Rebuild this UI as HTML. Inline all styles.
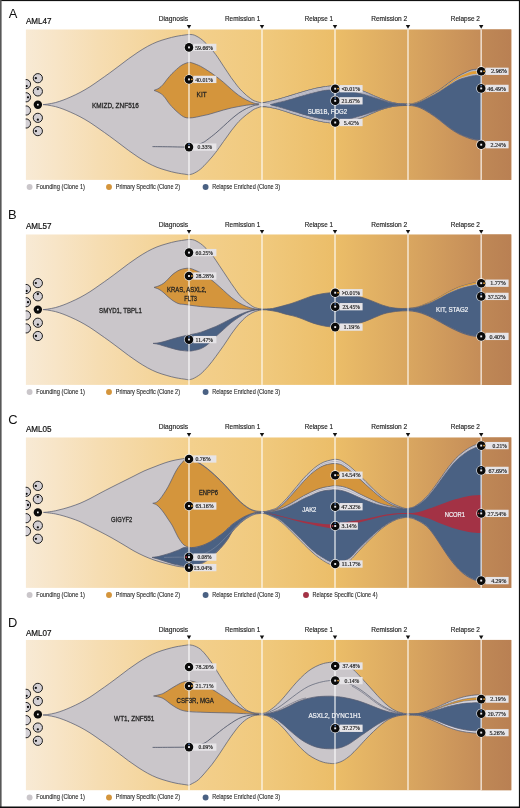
<!DOCTYPE html>
<html><head><meta charset="utf-8"><title>Clonal evolution</title>
<style>
html,body{margin:0;padding:0;background:#fff}
body{width:520px;height:808px;overflow:hidden;position:relative;font-family:"Liberation Sans",sans-serif}
svg{position:absolute;left:0;top:0;display:block;will-change:transform}
text{font-family:"Liberation Sans",sans-serif}
.pl{font-size:12.9px;fill:#111}
.pn{font-size:8.7px;fill:#111;stroke:#111;stroke-width:.2px}
.tp{font-size:7px;fill:#1a1a1a;stroke:#1a1a1a;stroke-width:.14px}
.gn{font-size:7.6px;fill:#222;stroke:#222;stroke-width:.28px}
.gw{font-size:7.6px;fill:#f0f2f6;stroke:#f0f2f6;stroke-width:.22px}
.lg{font-size:6.4px;fill:#262626;stroke:#262626;stroke-width:.1px}
.pc{font-family:"Liberation Serif",serif;font-size:6.3px;fill:#151515;stroke:#151515;stroke-width:.16px}
</style></head><body>
<svg width="520" height="808" viewBox="0 0 520 808">
<defs>
<linearGradient id="bg" gradientUnits="userSpaceOnUse" x1="25.7" x2="511.5" y1="0" y2="0"><stop offset="0" stop-color="#f8ead5"/><stop offset="0.07" stop-color="#f7e4c5"/><stop offset="0.15" stop-color="#f6ddb2"/><stop offset="0.26" stop-color="#f4d59c"/><stop offset="0.34" stop-color="#f3d08d"/><stop offset="0.49" stop-color="#f0c97d"/><stop offset="0.64" stop-color="#ebbd68"/><stop offset="0.79" stop-color="#d9a660"/><stop offset="0.94" stop-color="#c48c58"/><stop offset="1" stop-color="#be8656"/></linearGradient>
<linearGradient id="bg2" gradientUnits="userSpaceOnUse" x1="481.2" x2="511.5" y1="0" y2="0"><stop offset="0" stop-color="#bf8856"/><stop offset="1" stop-color="#b98053"/></linearGradient>
</defs>
<rect width="520" height="808" fill="#fff"/>
<g clip-path="url(#cA)">
<rect x="25.7" y="29.3" width="485.8" height="150.6" fill="url(#bg)"/>
<rect x="481.2" y="29.3" width="30.3" height="150.6" fill="url(#bg2)"/>
<path d="M43 104.6C43.78 104.52 45.63 104.43 47.7 104.1C49.77 103.77 52.83 103.27 55.4 102.6C57.97 101.93 60.53 101.05 63.1 100.1C65.67 99.15 67.98 98.17 70.8 96.9C73.62 95.63 76.8 94.2 80 92.5C83.2 90.8 86.67 88.82 90 86.7C93.33 84.58 96.8 82.03 100 79.8C103.2 77.57 106.03 75.6 109.2 73.3C112.37 71 115.78 68.42 119 66C122.22 63.58 125.33 61.1 128.5 58.8C131.67 56.5 134.8 54.28 138 52.2C141.2 50.12 144.53 48.02 147.7 46.3C150.87 44.58 153.8 43.17 157 41.9C160.2 40.63 163.73 39.62 166.9 38.7C170.07 37.78 172.78 37.05 176 36.4C179.22 35.75 184.03 35.12 186.2 34.8C188.37 34.48 187.92 34.52 189 34.5C190.08 34.48 191.53 34.47 192.7 34.7C193.87 34.93 194.72 35.27 196 35.9C197.28 36.53 199.07 37.57 200.4 38.5C201.73 39.43 202.73 40.35 204 41.5C205.27 42.65 206.67 44.02 208 45.4C209.33 46.78 210.7 48.27 212 49.8C213.3 51.33 214.55 52.9 215.8 54.6C217.05 56.3 218.22 58.07 219.5 60C220.78 61.93 222.17 64.17 223.5 66.2C224.83 68.23 226.22 70.28 227.5 72.2C228.78 74.12 229.95 75.93 231.2 77.7C232.45 79.47 233.73 81.13 235 82.8C236.27 84.47 237.53 86.22 238.8 87.7C240.07 89.18 241.32 90.42 242.6 91.7C243.88 92.98 245.2 94.28 246.5 95.4C247.8 96.52 249.12 97.5 250.4 98.4C251.68 99.3 252.53 100.1 254.2 100.8C255.87 101.5 259.1 102.28 260.4 102.6C261.7 102.92 260.97 102.78 262 102.7C263.03 102.62 264.87 102.42 266.6 102.1C268.33 101.78 270.6 101.23 272.4 100.8C274.2 100.37 275.3 100.08 277.4 99.5C279.5 98.92 282.43 98.07 285 97.3C287.57 96.53 290.3 95.67 292.8 94.9C295.3 94.13 297.43 93.47 300 92.7C302.57 91.93 305.53 91.03 308.2 90.3C310.87 89.57 313.45 88.87 316 88.3C318.55 87.73 320.97 87.28 323.5 86.9C326.03 86.52 329.28 86.18 331.2 86C333.12 85.82 333.2 85.77 335 85.8C336.8 85.83 339.5 85.9 342 86.2C344.5 86.5 346.55 86.8 350 87.6C353.45 88.4 358.78 89.67 362.7 91C366.62 92.33 370.42 94.3 373.5 95.6C376.58 96.9 378.65 97.8 381.2 98.8C383.75 99.8 386.25 100.83 388.8 101.6C391.35 102.37 393.93 103.02 396.5 103.4C399.07 103.78 402.28 103.82 404.2 103.9C406.12 103.98 407.37 103.9 408 103.9L408 105.5C407.37 105.5 406.12 105.43 404.2 105.5C402.28 105.57 399.07 105.6 396.5 105.9C393.93 106.2 391.35 106.68 388.8 107.3C386.25 107.92 383.75 108.7 381.2 109.6C378.65 110.5 376.58 111.42 373.5 112.7C370.42 113.98 366.62 115.87 362.7 117.3C358.78 118.73 353.45 120.42 350 121.3C346.55 122.18 344.5 122.32 342 122.6C339.5 122.88 336.8 122.95 335 123C333.2 123.05 333.12 123.08 331.2 122.9C329.28 122.72 326.03 122.32 323.5 121.9C320.97 121.48 318.55 120.98 316 120.4C313.45 119.82 310.87 119.13 308.2 118.4C305.53 117.67 302.57 116.77 300 116C297.43 115.23 295.3 114.6 292.8 113.8C290.3 113 287.57 112.02 285 111.2C282.43 110.38 279.5 109.47 277.4 108.9C275.3 108.33 274.2 108.15 272.4 107.8C270.6 107.45 268.33 106.98 266.6 106.8C264.87 106.62 263.03 106.7 262 106.7C260.97 106.7 261.7 106.38 260.4 106.8C259.1 107.22 255.87 108.37 254.2 109.2C252.53 110.03 251.68 110.9 250.4 111.8C249.12 112.7 247.8 113.58 246.5 114.6C245.2 115.62 243.88 116.75 242.6 117.9C241.32 119.05 240.07 120.15 238.8 121.5C237.53 122.85 236.27 124.45 235 126C233.73 127.55 232.45 129.13 231.2 130.8C229.95 132.47 228.78 134.22 227.5 136C226.22 137.78 224.83 139.63 223.5 141.5C222.17 143.37 220.78 145.4 219.5 147.2C218.22 149 217.05 150.67 215.8 152.3C214.55 153.93 213.3 155.47 212 157C210.7 158.53 209.33 160.03 208 161.5C206.67 162.97 205.27 164.52 204 165.8C202.73 167.08 201.65 168.18 200.4 169.2C199.15 170.22 197.78 171.13 196.5 171.9C195.22 172.67 193.95 173.33 192.7 173.8C191.45 174.27 190.08 174.6 189 174.7C187.92 174.8 188.37 174.72 186.2 174.4C184.03 174.08 179.22 173.45 176 172.8C172.78 172.15 170.07 171.42 166.9 170.5C163.73 169.58 160.2 168.57 157 167.3C153.8 166.03 150.87 164.62 147.7 162.9C144.53 161.18 141.2 159.08 138 157C134.8 154.92 131.67 152.7 128.5 150.4C125.33 148.1 122.22 145.62 119 143.2C115.78 140.78 112.37 138.2 109.2 135.9C106.03 133.6 103.2 131.63 100 129.4C96.8 127.17 93.33 124.62 90 122.5C86.67 120.38 83.2 118.4 80 116.7C76.8 115 73.62 113.57 70.8 112.3C67.98 111.03 65.67 110.05 63.1 109.1C60.53 108.15 57.97 107.27 55.4 106.6C52.83 105.93 49.77 105.43 47.7 105.1C45.63 104.77 43.78 104.68 43 104.6Z" fill="#cac6ca" stroke="#585e71" stroke-width="0.75" />
<path d="M154 90.4C154.83 90.03 157.5 89.17 159 88.2C160.5 87.23 161.68 86.05 163 84.6C164.32 83.15 165.4 81.33 166.9 79.5C168.4 77.67 170.4 75.28 172 73.6C173.6 71.92 175.17 70.6 176.5 69.4C177.83 68.2 178.75 67.3 180 66.4C181.25 65.5 182.5 64.67 184 64C185.5 63.33 187.55 62.55 189 62.4C190.45 62.25 190.8 62.47 192.7 63.1C194.6 63.73 197.85 64.92 200.4 66.2C202.95 67.48 205.43 69.13 208 70.8C210.57 72.47 213.22 74.28 215.8 76.2C218.38 78.12 220.93 80.13 223.5 82.3C226.07 84.47 228.65 87.02 231.2 89.2C233.75 91.38 236.25 93.6 238.8 95.4C241.35 97.2 243.93 98.7 246.5 100C249.07 101.3 252.12 102.53 254.2 103.2C256.28 103.87 258.2 103.87 259 104L259 104.2C258.2 104.23 256.28 104.23 254.2 104.4C252.12 104.57 249.07 104.85 246.5 105.2C243.93 105.55 241.35 106.03 238.8 106.5C236.25 106.97 233.75 107.42 231.2 108C228.65 108.58 226.07 109.28 223.5 110C220.93 110.72 218.38 111.53 215.8 112.3C213.22 113.07 210.57 113.95 208 114.6C205.43 115.25 202.95 115.68 200.4 116.2C197.85 116.72 195.27 117.5 192.7 117.7C190.13 117.9 187.45 118.25 185 117.4C182.55 116.55 180.5 114.73 178 112.6C175.5 110.47 172.33 107.3 170 104.6C167.67 101.9 165.83 98.42 164 96.4C162.17 94.38 160.67 93.5 159 92.5C157.33 91.5 154.83 90.75 154 90.4Z" fill="#d4953c" stroke="#585e71" stroke-width="0.75" />
<path d="M152.5 146.6C155.42 146.63 163.92 146.73 170 146.8C176.08 146.87 184.67 147.23 189 147C193.33 146.77 193.58 146.18 196 145.4C198.42 144.62 201.5 143.33 203.5 142.3C205.5 141.27 205.95 140.73 208 139.2C210.05 137.67 213.22 135.27 215.8 133.1C218.38 130.93 220.93 128.52 223.5 126.2C226.07 123.88 228.65 121.38 231.2 119.2C233.75 117.02 236.25 114.88 238.8 113.1C241.35 111.32 243.93 109.77 246.5 108.5C249.07 107.23 252.2 106.1 254.2 105.5C256.2 104.9 257.78 105 258.5 104.9" fill="none" stroke="#4e5568" stroke-width="0.85"/>
<path d="M266.6 102.1C267.57 101.88 270.6 101.23 272.4 100.8C274.2 100.37 275.3 100.08 277.4 99.5C279.5 98.92 282.43 98.07 285 97.3C287.57 96.53 290.3 95.67 292.8 94.9C295.3 94.13 297.43 93.47 300 92.7C302.57 91.93 305.53 91.03 308.2 90.3C310.87 89.57 313.45 88.87 316 88.3C318.55 87.73 320.97 87.28 323.5 86.9C326.03 86.52 329.28 86.18 331.2 86C333.12 85.82 333.2 85.77 335 85.8C336.8 85.83 339.5 85.9 342 86.2C344.5 86.5 346.55 86.8 350 87.6C353.45 88.4 358.78 89.67 362.7 91C366.62 92.33 370.42 94.3 373.5 95.6C376.58 96.9 378.65 97.8 381.2 98.8C383.75 99.8 386.25 100.83 388.8 101.6C391.35 102.37 393.93 103.02 396.5 103.4C399.07 103.78 402.92 103.82 404.2 103.9L404.2 104.41C402.92 104.33 399.07 104.24 396.5 103.9C393.93 103.56 391.35 103.05 388.8 102.4C386.25 101.75 383.75 100.83 381.2 100C378.65 99.17 376.58 98.38 373.5 97.4C370.42 96.42 366.62 95.19 362.7 94.14C358.78 93.09 353.45 91.81 350 91.1C346.55 90.39 344.5 90.17 342 89.9C339.5 89.63 336.8 89.53 335 89.5C333.2 89.47 333.12 89.52 331.2 89.7C329.28 89.88 326.03 90.18 323.5 90.6C320.97 91.02 318.55 91.6 316 92.2C313.45 92.8 310.87 93.47 308.2 94.2C305.53 94.93 302.57 95.83 300 96.6C297.43 97.37 295.3 98.08 292.8 98.8C290.3 99.52 287.57 100.25 285 100.9C282.43 101.55 279.5 102.18 277.4 102.7C275.3 103.22 274.2 103.7 272.4 104C270.6 104.3 267.57 104.42 266.6 104.5Z" fill="#dbd8dd" stroke="none" stroke-width="0" />
<path d="M266.6 104.9C267.57 104.98 270.6 105.08 272.4 105.37C274.2 105.65 275.3 106.03 277.4 106.6C279.5 107.17 282.43 108.03 285 108.8C287.57 109.57 290.3 110.43 292.8 111.2C295.3 111.97 297.43 112.63 300 113.4C302.57 114.17 305.53 115.07 308.2 115.8C310.87 116.53 313.45 117.22 316 117.8C318.55 118.38 320.97 118.88 323.5 119.3C326.03 119.72 329.28 120.1 331.2 120.3C333.12 120.5 333.2 120.52 335 120.5C336.8 120.48 339.5 120.45 342 120.2C344.5 119.95 346.55 119.84 350 119C353.45 118.16 358.78 116.39 362.7 115.15C366.62 113.92 370.42 112.64 373.5 111.6C376.58 110.56 378.65 109.7 381.2 108.9C383.75 108.1 386.25 107.35 388.8 106.8C391.35 106.25 393.93 105.85 396.5 105.6C399.07 105.35 402.92 105.34 404.2 105.29L404.2 105.5C402.92 105.57 399.07 105.6 396.5 105.9C393.93 106.2 391.35 106.68 388.8 107.3C386.25 107.92 383.75 108.7 381.2 109.6C378.65 110.5 376.58 111.42 373.5 112.7C370.42 113.98 366.62 115.87 362.7 117.3C358.78 118.73 353.45 120.42 350 121.3C346.55 122.18 344.5 122.32 342 122.6C339.5 122.88 336.8 122.95 335 123C333.2 123.05 333.12 123.08 331.2 122.9C329.28 122.72 326.03 122.32 323.5 121.9C320.97 121.48 318.55 120.98 316 120.4C313.45 119.82 310.87 119.13 308.2 118.4C305.53 117.67 302.57 116.77 300 116C297.43 115.23 295.3 114.6 292.8 113.8C290.3 113 287.57 112.02 285 111.2C282.43 110.38 279.5 109.47 277.4 108.9C275.3 108.33 274.2 108.15 272.4 107.8C270.6 107.45 267.57 106.97 266.6 106.8Z" fill="#dbd8dd" stroke="none" stroke-width="0" />
<path d="M266.6 102.96C267.57 102.8 270.6 102.34 272.4 101.95C274.2 101.57 275.3 101.21 277.4 100.65C279.5 100.09 282.43 99.32 285 98.6C287.57 97.87 290.3 97.05 292.8 96.3C295.3 95.56 297.43 94.87 300 94.1C302.57 93.34 305.53 92.44 308.2 91.7C310.87 90.97 313.45 90.28 316 89.7C318.55 89.13 320.97 88.63 323.5 88.23C326.03 87.84 329.28 87.52 331.2 87.33C333.12 87.15 333.2 87.1 335 87.13C336.8 87.17 339.5 87.24 342 87.53C344.5 87.82 346.55 88.09 350 88.86C353.45 89.63 358.78 90.9 362.7 92.13C366.62 93.36 370.42 95.06 373.5 96.25C376.58 97.43 378.65 98.29 381.2 99.23C383.75 100.17 386.25 101.16 388.8 101.89C391.35 102.61 393.93 103.21 396.5 103.58C399.07 103.95 402.92 104 404.2 104.08" fill="none" stroke="#80839a" stroke-width="0.45"/>
<path d="M266.6 103.73C267.57 103.61 270.6 103.32 272.4 102.98C274.2 102.64 275.3 102.21 277.4 101.68C279.5 101.14 282.43 100.44 285 99.75C287.57 99.06 290.3 98.28 292.8 97.55C295.3 96.82 297.43 96.12 300 95.35C302.57 94.59 305.53 93.69 308.2 92.95C310.87 92.22 313.45 91.54 316 90.95C318.55 90.36 320.97 89.82 323.5 89.42C326.03 89.01 329.28 88.7 331.2 88.52C333.12 88.33 333.2 88.28 335 88.32C336.8 88.35 339.5 88.44 342 88.72C344.5 88.99 346.55 89.24 350 89.98C353.45 90.72 358.78 92 362.7 93.14C366.62 94.28 370.42 95.74 373.5 96.82C376.58 97.9 378.65 98.73 381.2 99.62C383.75 100.5 386.25 101.46 388.8 102.14C391.35 102.83 393.93 103.39 396.5 103.74C399.07 104.09 402.92 104.16 404.2 104.25" fill="none" stroke="#80839a" stroke-width="0.45"/>
<path d="M266.6 105.85C267.57 105.97 270.6 106.27 272.4 106.58C274.2 106.9 275.3 107.18 277.4 107.75C279.5 108.32 282.43 109.21 285 110C287.57 110.79 290.3 111.72 292.8 112.5C295.3 113.28 297.43 113.93 300 114.7C302.57 115.47 305.53 116.37 308.2 117.1C310.87 117.83 313.45 118.52 316 119.1C318.55 119.68 320.97 120.18 323.5 120.6C326.03 121.02 329.28 121.41 331.2 121.6C333.12 121.79 333.2 121.78 335 121.75C336.8 121.72 339.5 121.67 342 121.4C344.5 121.13 346.55 121.01 350 120.15C353.45 119.29 358.78 117.56 362.7 116.23C366.62 114.89 370.42 113.31 373.5 112.15C376.58 110.99 378.65 110.1 381.2 109.25C383.75 108.4 386.25 107.63 388.8 107.05C391.35 106.47 393.93 106.03 396.5 105.75C399.07 105.47 402.92 105.45 404.2 105.39" fill="none" stroke="#80839a" stroke-width="0.45"/>
<path d="M270.5 104.5C271.65 104.2 274.98 103.3 277.4 102.7C279.82 102.1 282.43 101.55 285 100.9C287.57 100.25 290.3 99.52 292.8 98.8C295.3 98.08 297.43 97.37 300 96.6C302.57 95.83 305.53 94.93 308.2 94.2C310.87 93.47 313.45 92.8 316 92.2C318.55 91.6 320.97 91.02 323.5 90.6C326.03 90.18 329.28 89.88 331.2 89.7C333.12 89.52 333.2 89.47 335 89.5C336.8 89.53 339.5 89.63 342 89.9C344.5 90.17 347.33 90.58 350 91.1C352.67 91.62 355.37 92.37 358 93C360.63 93.63 363.22 94.17 365.8 94.9C368.38 95.63 370.93 96.55 373.5 97.4C376.07 98.25 378.65 99.17 381.2 100C383.75 100.83 386.25 101.75 388.8 102.4C391.35 103.05 393.97 103.57 396.5 103.9C399.03 104.23 402.42 104.3 404 104.4C405.58 104.5 405.67 104.48 406 104.5L406 105.2C405.67 105.22 405.58 105.23 404 105.3C402.42 105.37 399.03 105.35 396.5 105.6C393.97 105.85 391.35 106.25 388.8 106.8C386.25 107.35 383.75 108.1 381.2 108.9C378.65 109.7 376.07 110.72 373.5 111.6C370.93 112.48 368.38 113.37 365.8 114.2C363.22 115.03 360.63 115.8 358 116.6C355.37 117.4 352.67 118.4 350 119C347.33 119.6 344.5 119.95 342 120.2C339.5 120.45 336.8 120.48 335 120.5C333.2 120.52 333.12 120.5 331.2 120.3C329.28 120.1 326.03 119.72 323.5 119.3C320.97 118.88 318.55 118.38 316 117.8C313.45 117.22 310.87 116.53 308.2 115.8C305.53 115.07 302.57 114.17 300 113.4C297.43 112.63 295.3 111.97 292.8 111.2C290.3 110.43 287.57 109.57 285 108.8C282.43 108.03 279.82 107.25 277.4 106.6C274.98 105.95 271.65 105.18 270.5 104.9Z" fill="#4a6183" stroke="#585e71" stroke-width="0.75" />
<path d="M262 102.7C262.77 102.6 264.87 102.42 266.6 102.1C268.33 101.78 270.6 101.23 272.4 100.8C274.2 100.37 275.3 100.08 277.4 99.5C279.5 98.92 282.43 98.07 285 97.3C287.57 96.53 290.3 95.67 292.8 94.9C295.3 94.13 297.43 93.47 300 92.7C302.57 91.93 305.53 91.03 308.2 90.3C310.87 89.57 313.45 88.87 316 88.3C318.55 87.73 320.97 87.28 323.5 86.9C326.03 86.52 329.28 86.18 331.2 86C333.12 85.82 333.2 85.77 335 85.8C336.8 85.83 339.5 85.9 342 86.2C344.5 86.5 346.55 86.8 350 87.6C353.45 88.4 358.78 89.67 362.7 91C366.62 92.33 370.42 94.3 373.5 95.6C376.58 96.9 378.65 97.8 381.2 98.8C383.75 99.8 386.25 100.83 388.8 101.6C391.35 102.37 393.93 103.02 396.5 103.4C399.07 103.78 402.28 103.82 404.2 103.9C406.12 103.98 407.37 103.9 408 103.9" fill="none" stroke="#585e71" stroke-width="0.65"/>
<path d="M262 106.7C262.77 106.72 264.87 106.62 266.6 106.8C268.33 106.98 270.6 107.45 272.4 107.8C274.2 108.15 275.3 108.33 277.4 108.9C279.5 109.47 282.43 110.38 285 111.2C287.57 112.02 290.3 113 292.8 113.8C295.3 114.6 297.43 115.23 300 116C302.57 116.77 305.53 117.67 308.2 118.4C310.87 119.13 313.45 119.82 316 120.4C318.55 120.98 320.97 121.48 323.5 121.9C326.03 122.32 329.28 122.72 331.2 122.9C333.12 123.08 333.2 123.05 335 123C336.8 122.95 339.5 122.88 342 122.6C344.5 122.32 346.55 122.18 350 121.3C353.45 120.42 358.78 118.73 362.7 117.3C366.62 115.87 370.42 113.98 373.5 112.7C376.58 111.42 378.65 110.5 381.2 109.6C383.75 108.7 386.25 107.92 388.8 107.3C391.35 106.68 393.93 106.2 396.5 105.9C399.07 105.6 402.28 105.57 404.2 105.5C406.12 105.43 407.37 105.5 408 105.5" fill="none" stroke="#585e71" stroke-width="0.65"/>
<path d="M408 103.9C408.78 103.85 410.7 104.08 412.7 103.6C414.7 103.12 417.18 102.32 420 101C422.82 99.68 426.4 97.53 429.6 95.7C432.8 93.87 436 92.15 439.2 90C442.4 87.85 445.58 85.13 448.8 82.8C452.02 80.47 454.97 78.07 458.5 76C462.03 73.93 467.08 71.52 470 70.4C472.92 69.28 474.13 69.55 476 69.3C477.87 69.05 480.33 68.97 481.2 68.9L481.2 140.6C480.33 140.5 477.87 140.33 476 140C474.13 139.67 472.92 139.63 470 138.6C467.08 137.57 462.03 135.63 458.5 133.8C454.97 131.97 452.02 129.92 448.8 127.6C445.58 125.28 442.4 122.32 439.2 119.9C436 117.48 432.8 115.12 429.6 113.1C426.4 111.08 422.82 109.02 420 107.8C417.18 106.58 414.7 106.18 412.7 105.8C410.7 105.42 408.78 105.55 408 105.5Z" fill="#b4b5c0" stroke="#585e71" stroke-width="0.75" />
<path d="M408 104.08C408.78 104.03 410.7 104.23 412.7 103.76C414.7 103.28 417.18 102.51 420 101.23C422.82 99.96 426.4 97.88 429.6 96.09C432.8 94.3 436 92.59 439.2 90.49C442.4 88.4 445.58 85.77 448.8 83.53C452.02 81.28 454.97 78.94 458.5 77.01C462.03 75.09 467.08 73 470 71.99C472.92 70.97 474.13 71.15 476 70.91C477.87 70.67 480.33 70.6 481.2 70.54L481.2 73.44C480.33 73.49 477.87 73.54 476 73.76C474.13 73.99 472.92 73.95 470 74.79C467.08 75.63 462.03 77.14 458.5 78.81C454.97 80.48 452.02 82.72 448.8 84.82C445.58 86.91 442.4 89.37 439.2 91.37C436 93.36 432.8 95.07 429.6 96.78C426.4 98.49 422.82 100.44 420 101.65C417.18 102.86 414.7 103.57 412.7 104.03C410.7 104.49 408.78 104.34 408 104.4Z" fill="#e29d33" stroke="none" stroke-width="0" />
<path d="M410 104.6C410.45 104.53 411.03 104.65 412.7 104.2C414.37 103.75 417.18 103.07 420 101.9C422.82 100.73 426.4 98.87 429.6 97.2C432.8 95.53 436 93.83 439.2 91.9C442.4 89.97 445.58 87.6 448.8 85.6C452.02 83.6 454.97 81.42 458.5 79.9C462.03 78.38 467.08 77.23 470 76.5C472.92 75.77 474.13 75.72 476 75.5C477.87 75.28 480.33 75.25 481.2 75.2L481.2 140C480.33 139.9 477.87 139.73 476 139.4C474.13 139.07 472.92 139.03 470 138C467.08 136.97 462.03 135.03 458.5 133.2C454.97 131.37 452.02 129.32 448.8 127C445.58 124.68 442.4 121.72 439.2 119.3C436 116.88 432.8 114.52 429.6 112.5C426.4 110.48 422.82 108.42 420 107.2C417.18 105.98 414.37 105.58 412.7 105.2C411.03 104.82 410.45 104.95 410 104.9Z" fill="#4a6183" stroke="#585e71" stroke-width="0.75" />
<rect x="188.2" y="29.3" width="1.6" height="150.6" fill="#fff" fill-opacity=".68"/>
<rect x="261.2" y="29.3" width="1.6" height="150.6" fill="#fff" fill-opacity=".68"/>
<rect x="334.2" y="29.3" width="1.6" height="150.6" fill="#fff" fill-opacity=".68"/>
<rect x="407.2" y="29.3" width="1.6" height="150.6" fill="#fff" fill-opacity=".68"/>
<rect x="480.4" y="29.3" width="1.6" height="150.6" fill="#fff" fill-opacity=".68"/>
<text x="307.8" y="114.3" class="gw" textLength="39.3" lengthAdjust="spacingAndGlyphs">SUB1B, FOG2</text>
<text x="92" y="107.8" class="gn" textLength="46.9" lengthAdjust="spacingAndGlyphs">KMIZD, ZNF516</text>
<text x="196.6" y="97.2" class="gn" textLength="10" lengthAdjust="spacingAndGlyphs">KIT</text>
<circle cx="26" cy="84.1" r="4.6" fill="#d3cfd3" stroke="#1c1c1c" stroke-width="1"/><circle cx="26.6" cy="86.1" r="1.15" fill="#111"/><circle cx="26" cy="97.3" r="4.6" fill="#d3cfd3" stroke="#1c1c1c" stroke-width="1"/><circle cx="28" cy="97.3" r="1.15" fill="#111"/><circle cx="26" cy="110.5" r="4.6" fill="#d3cfd3" stroke="#1c1c1c" stroke-width="1"/><circle cx="26" cy="123.5" r="4.6" fill="#d3cfd3" stroke="#1c1c1c" stroke-width="1"/><circle cx="37.85" cy="78.2" r="4.6" fill="#d3cfd3" stroke="#1c1c1c" stroke-width="1"/><circle cx="35.85" cy="78.2" r="1.15" fill="#111"/><circle cx="37.85" cy="91.4" r="4.6" fill="#d3cfd3" stroke="#1c1c1c" stroke-width="1"/><circle cx="37.85" cy="89.1" r="1.15" fill="#111"/><circle cx="37.85" cy="117.85" r="4.6" fill="#d3cfd3" stroke="#1c1c1c" stroke-width="1"/><circle cx="37.85" cy="119.65" r="1.15" fill="#111"/><circle cx="37.85" cy="131.1" r="4.6" fill="#d3cfd3" stroke="#1c1c1c" stroke-width="1"/><circle cx="35.95" cy="131.1" r="1.15" fill="#111"/><circle cx="37.85" cy="104.7" r="4.2" fill="#0a0a0a"/><rect x="37" y="103.85" width="1.7" height="1.7" fill="#eee"/>
</g>
<defs><clipPath id="cA"><rect x="25.7" y="29.3" width="485.8" height="150.6"/></clipPath></defs>
<text x="8.85" y="17.5" class="pl">A</text>
<text x="25.9" y="23.65" class="pn" textLength="25.6" lengthAdjust="spacingAndGlyphs">AML47</text>
<text x="158.7" y="20.5" class="tp" textLength="29.4" lengthAdjust="spacingAndGlyphs">Diagnosis</text>
<path d="M186.8 25.1 h4.4 l-2.2 3.6z" fill="#111"/>
<text x="225" y="20.5" class="tp" textLength="35.2" lengthAdjust="spacingAndGlyphs">Remission 1</text>
<path d="M259.8 25.1 h4.4 l-2.2 3.6z" fill="#111"/>
<text x="304.7" y="20.5" class="tp" textLength="28.2" lengthAdjust="spacingAndGlyphs">Relapse 1</text>
<path d="M332.8 25.1 h4.4 l-2.2 3.6z" fill="#111"/>
<text x="371.15" y="20.5" class="tp" textLength="36.1" lengthAdjust="spacingAndGlyphs">Remission 2</text>
<path d="M405.8 25.1 h4.4 l-2.2 3.6z" fill="#111"/>
<text x="450.8" y="20.5" class="tp" textLength="29.1" lengthAdjust="spacingAndGlyphs">Relapse 2</text>
<path d="M479 25.1 h4.4 l-2.2 3.6z" fill="#111"/>
<rect x="193.3" y="43.75" width="23.1" height="7.3" fill="#e6e4e7"/><text x="195.2" y="49.55" class="pc" textLength="17.9" lengthAdjust="spacingAndGlyphs">59.66%</text>
<circle cx="189" cy="47.4" r="4.95" fill="#fff" fill-opacity=".82"/><circle cx="189" cy="47.4" r="4.3" fill="#0a0a0a"/><rect x="188.05" y="46.45" width="1.9" height="1.9" fill="#ececf0"/>
<rect x="193.3" y="75.75" width="23.1" height="7.3" fill="#e6e4e7"/><text x="195.2" y="81.55" class="pc" textLength="17.9" lengthAdjust="spacingAndGlyphs">40.01%</text>
<circle cx="189" cy="79.4" r="4.95" fill="#fff" fill-opacity=".82"/><circle cx="189" cy="79.4" r="4.3" fill="#0a0a0a"/><rect x="188.05" y="78.45" width="1.9" height="1.9" fill="#ececf0"/><rect x="191.11" y="78.65" width="1.5" height="1.5" fill="#f0a22c"/>
<rect x="193.3" y="143.45" width="23.1" height="7.3" fill="#e6e4e7"/><text x="197.6" y="149.25" class="pc" textLength="14.6" lengthAdjust="spacingAndGlyphs">0.33%</text>
<circle cx="189" cy="147.1" r="4.95" fill="#fff" fill-opacity=".82"/><circle cx="189" cy="147.1" r="4.3" fill="#0a0a0a"/><rect x="188.05" y="146.15" width="1.9" height="1.9" fill="#ececf0"/><rect x="188.25" y="143.62" width="1.5" height="1.5" fill="#4f79b8"/>
<rect x="339.5" y="85.05" width="23.1" height="7.3" fill="#e6e4e7"/><text x="341.4" y="90.85" class="pc" textLength="19" lengthAdjust="spacingAndGlyphs">&lt;0.01%</text>
<circle cx="335.2" cy="88.7" r="4.95" fill="#fff" fill-opacity=".82"/><circle cx="335.2" cy="88.7" r="4.3" fill="#0a0a0a"/><rect x="334.25" y="87.75" width="1.9" height="1.9" fill="#ececf0"/><rect x="337.31" y="87.95" width="1.5" height="1.5" fill="#f0a22c"/>
<rect x="339.5" y="97.15" width="23.1" height="7.3" fill="#e6e4e7"/><text x="341.5" y="102.95" class="pc" textLength="18.3" lengthAdjust="spacingAndGlyphs">21.67%</text>
<circle cx="335.2" cy="100.8" r="4.95" fill="#fff" fill-opacity=".82"/><circle cx="335.2" cy="100.8" r="4.3" fill="#0a0a0a"/><rect x="334.25" y="99.85" width="1.9" height="1.9" fill="#ececf0"/><rect x="334.45" y="97.32" width="1.5" height="1.5" fill="#4f79b8"/>
<rect x="339.5" y="118.85" width="23.1" height="7.3" fill="#e6e4e7"/><text x="343.7" y="124.65" class="pc" textLength="15.1" lengthAdjust="spacingAndGlyphs">5.42%</text>
<circle cx="335.2" cy="122.5" r="4.95" fill="#fff" fill-opacity=".82"/><circle cx="335.2" cy="122.5" r="4.3" fill="#0a0a0a"/><rect x="334.25" y="121.55" width="1.9" height="1.9" fill="#ececf0"/>
<rect x="485.5" y="67.65" width="23.1" height="7.3" fill="#e6e4e7"/><text x="491" y="73.45" class="pc" textLength="16" lengthAdjust="spacingAndGlyphs">2.96%</text>
<circle cx="481.2" cy="71.3" r="4.95" fill="#fff" fill-opacity=".82"/><circle cx="481.2" cy="71.3" r="4.3" fill="#0a0a0a"/><rect x="480.25" y="70.35" width="1.9" height="1.9" fill="#ececf0"/><rect x="483.31" y="70.55" width="1.5" height="1.5" fill="#f0a22c"/>
<rect x="485.5" y="84.75" width="23.1" height="7.3" fill="#e6e4e7"/><text x="487.3" y="90.55" class="pc" textLength="18.7" lengthAdjust="spacingAndGlyphs">46.49%</text>
<circle cx="481.2" cy="88.4" r="4.95" fill="#fff" fill-opacity=".82"/><circle cx="481.2" cy="88.4" r="4.3" fill="#0a0a0a"/><rect x="480.25" y="87.45" width="1.9" height="1.9" fill="#ececf0"/><rect x="480.45" y="84.92" width="1.5" height="1.5" fill="#4f79b8"/>
<rect x="485.5" y="141.05" width="23.1" height="7.3" fill="#e6e4e7"/><text x="490.5" y="146.85" class="pc" textLength="15.5" lengthAdjust="spacingAndGlyphs">2.24%</text>
<circle cx="481.2" cy="144.7" r="4.95" fill="#fff" fill-opacity=".82"/><circle cx="481.2" cy="144.7" r="4.3" fill="#0a0a0a"/><rect x="480.25" y="143.75" width="1.9" height="1.9" fill="#ececf0"/>
<circle cx="29.6" cy="187" r="2.95" fill="#cac6ca"/>
<text x="36.2" y="188.75" class="lg" textLength="48.8" lengthAdjust="spacingAndGlyphs">Founding (Clone 1)</text>
<circle cx="109" cy="187" r="2.95" fill="#d4953c"/>
<text x="115.7" y="188.75" class="lg" textLength="64.3" lengthAdjust="spacingAndGlyphs">Primary Specific (Clone 2)</text>
<circle cx="205.6" cy="187" r="2.95" fill="#4a6183"/>
<text x="212.2" y="188.75" class="lg" textLength="67.8" lengthAdjust="spacingAndGlyphs">Relapse Enriched (Clone 3)</text>
<g clip-path="url(#cB)">
<rect x="25.7" y="234.3" width="485.8" height="150.6" fill="url(#bg)"/>
<rect x="481.2" y="234.3" width="30.3" height="150.6" fill="url(#bg2)"/>
<path d="M43 309.6C43.78 309.52 45.63 309.43 47.7 309.1C49.77 308.77 52.83 308.27 55.4 307.6C57.97 306.93 60.53 306.05 63.1 305.1C65.67 304.15 67.98 303.17 70.8 301.9C73.62 300.63 76.8 299.2 80 297.5C83.2 295.8 86.67 293.82 90 291.7C93.33 289.58 96.8 287.03 100 284.8C103.2 282.57 106.03 280.6 109.2 278.3C112.37 276 115.78 273.42 119 271C122.22 268.58 125.33 266.1 128.5 263.8C131.67 261.5 134.8 259.28 138 257.2C141.2 255.12 144.53 253.02 147.7 251.3C150.87 249.58 153.8 248.17 157 246.9C160.2 245.63 163.73 244.62 166.9 243.7C170.07 242.78 172.78 242.05 176 241.4C179.22 240.75 184.03 240.12 186.2 239.8C188.37 239.48 187.92 239.52 189 239.5C190.08 239.48 191.53 239.47 192.7 239.7C193.87 239.93 194.72 240.27 196 240.9C197.28 241.53 199.07 242.57 200.4 243.5C201.73 244.43 202.73 245.35 204 246.5C205.27 247.65 206.67 249.02 208 250.4C209.33 251.78 210.7 253.17 212 254.8C213.3 256.43 214.55 258.37 215.8 260.2C217.05 262.03 218.22 263.87 219.5 265.8C220.78 267.73 222.17 269.8 223.5 271.8C224.83 273.8 226.22 275.87 227.5 277.8C228.78 279.73 229.95 281.57 231.2 283.4C232.45 285.23 233.73 287 235 288.8C236.27 290.6 237.53 292.6 238.8 294.2C240.07 295.8 241.32 297.12 242.6 298.4C243.88 299.68 245.2 300.82 246.5 301.9C247.8 302.98 249.12 304 250.4 304.9C251.68 305.8 252.53 306.62 254.2 307.3C255.87 307.98 259.1 308.7 260.4 309C261.7 309.3 261.73 309.08 262 309.1L262 309.9C261.73 309.92 261.7 309.67 260.4 310C259.1 310.33 255.87 311.25 254.2 311.9C252.53 312.55 251.68 313.13 250.4 313.9C249.12 314.67 247.8 315.47 246.5 316.5C245.2 317.53 243.88 318.82 242.6 320.1C241.32 321.38 240.07 322.72 238.8 324.2C237.53 325.68 236.27 327.33 235 329C233.73 330.67 232.45 332.4 231.2 334.2C229.95 336 228.78 337.87 227.5 339.8C226.22 341.73 224.83 343.87 223.5 345.8C222.17 347.73 220.78 349.62 219.5 351.4C218.22 353.18 217.05 354.8 215.8 356.5C214.55 358.2 213.3 359.93 212 361.6C210.7 363.27 209.33 364.97 208 366.5C206.67 368.03 205.27 369.52 204 370.8C202.73 372.08 201.65 373.2 200.4 374.2C199.15 375.2 197.78 376.03 196.5 376.8C195.22 377.57 193.95 378.32 192.7 378.8C191.45 379.28 190.08 379.6 189 379.7C187.92 379.8 188.37 379.72 186.2 379.4C184.03 379.08 179.22 378.45 176 377.8C172.78 377.15 170.07 376.42 166.9 375.5C163.73 374.58 160.2 373.57 157 372.3C153.8 371.03 150.87 369.62 147.7 367.9C144.53 366.18 141.2 364.08 138 362C134.8 359.92 131.67 357.7 128.5 355.4C125.33 353.1 122.22 350.62 119 348.2C115.78 345.78 112.37 343.2 109.2 340.9C106.03 338.6 103.2 336.63 100 334.4C96.8 332.17 93.33 329.62 90 327.5C86.67 325.38 83.2 323.4 80 321.7C76.8 320 73.62 318.57 70.8 317.3C67.98 316.03 65.67 315.05 63.1 314.1C60.53 313.15 57.97 312.27 55.4 311.6C52.83 310.93 49.77 310.43 47.7 310.1C45.63 309.77 43.78 309.68 43 309.6Z" fill="#cac6ca" stroke="#585e71" stroke-width="0.75" />
<path d="M154 287.4C154.83 287.13 157.33 286.53 159 285.8C160.67 285.07 162.5 284.1 164 283C165.5 281.9 166.67 280.53 168 279.2C169.33 277.87 170.67 276.2 172 275C173.33 273.8 174.67 272.87 176 272C177.33 271.13 178.5 270.38 180 269.8C181.5 269.22 183.5 268.75 185 268.5C186.5 268.25 187.72 268.18 189 268.3C190.28 268.42 190.8 268.47 192.7 269.2C194.6 269.93 197.85 271.35 200.4 272.7C202.95 274.05 205.43 275.5 208 277.3C210.57 279.1 213.22 281.32 215.8 283.5C218.38 285.68 220.93 288.1 223.5 290.4C226.07 292.7 228.65 295.25 231.2 297.3C233.75 299.35 236.25 301.17 238.8 302.7C241.35 304.23 243.93 305.48 246.5 306.5C249.07 307.52 252.12 308.33 254.2 308.8C256.28 309.27 258.2 309.22 259 309.3L259 309.5C256.92 309.45 251.13 309.37 246.5 309.2C241.87 309.03 236.32 308.77 231.2 308.5C226.08 308.23 220.93 307.93 215.8 307.6C210.67 307.27 205.53 307.02 200.4 306.5C195.27 305.98 188.4 304.92 185 304.5C181.6 304.08 181.5 304.33 180 304C178.5 303.67 177.33 303.17 176 302.5C174.67 301.83 173.33 300.95 172 300C170.67 299.05 169.33 297.97 168 296.8C166.67 295.63 165.5 294.25 164 293C162.5 291.75 160.67 290.23 159 289.3C157.33 288.37 154.83 287.72 154 287.4Z" fill="#d4953c" stroke="#585e71" stroke-width="0.75" />
<path d="M153 343.4C153.83 343.32 156.17 343.2 158 342.9C159.83 342.6 161 342.42 164 341.6C167 340.78 172.5 338.97 176 338C179.5 337.03 182.22 336.43 185 335.8C187.78 335.17 190.13 334.77 192.7 334.2C195.27 333.63 197.85 333.17 200.4 332.4C202.95 331.63 205.43 330.58 208 329.6C210.57 328.62 213.22 327.65 215.8 326.5C218.38 325.35 220.93 323.98 223.5 322.7C226.07 321.42 228.65 320.08 231.2 318.8C233.75 317.52 236.25 316.15 238.8 315C241.35 313.85 243.93 312.77 246.5 311.9C249.07 311.03 252.12 310.2 254.2 309.8C256.28 309.4 258.2 309.55 259 309.5L259 309.8C258.2 309.87 256.28 309.72 254.2 310.2C252.12 310.68 249.07 311.52 246.5 312.7C243.93 313.88 241.35 315.63 238.8 317.3C236.25 318.97 233.75 320.65 231.2 322.7C228.65 324.75 226.07 327.3 223.5 329.6C220.93 331.9 218.38 334.07 215.8 336.5C213.22 338.93 210.57 342.15 208 344.2C205.43 346.25 202.95 347.72 200.4 348.8C197.85 349.88 194.6 350.32 192.7 350.7C190.8 351.08 190.62 351.12 189 351.1C187.38 351.08 185.17 350.88 183 350.6C180.83 350.32 179.17 350.17 176 349.4C172.83 348.63 167 346.87 164 346C161 345.13 159.83 344.63 158 344.2C156.17 343.77 153.83 343.53 153 343.4Z" fill="#4a6183" stroke="#585e71" stroke-width="0.75" />
<path d="M259 309.2C259.5 309.18 260.73 309.15 262 309.1C263.27 309.05 264.87 309 266.6 308.9C268.33 308.8 270.47 308.8 272.4 308.5C274.33 308.2 276.28 307.58 278.2 307.1C280.12 306.62 281.6 306.23 283.9 305.6C286.2 304.97 289.32 304.17 292 303.3C294.68 302.43 297.33 301.38 300 300.4C302.67 299.42 305.33 298.3 308 297.4C310.67 296.5 313 295.7 316 295C319 294.3 322.83 293.6 326 293.2C329.17 292.8 332 292.57 335 292.6C338 292.63 341.5 293.07 344 293.4C346.5 293.73 347.33 294.03 350 294.6C352.67 295.17 356.67 295.87 360 296.8C363.33 297.73 367 299.1 370 300.2C373 301.3 375.7 302.5 378 303.4C380.3 304.3 381.88 304.97 383.8 305.6C385.72 306.23 387.58 306.78 389.5 307.2C391.42 307.62 393.38 307.88 395.3 308.1C397.22 308.32 398.88 308.45 401 308.5C403.12 308.55 406.83 308.42 408 308.4L408 310.8C406.83 310.83 403.12 310.88 401 311C398.88 311.12 397.22 311.27 395.3 311.5C393.38 311.73 391.42 312.02 389.5 312.4C387.58 312.78 385.72 313.2 383.8 313.8C381.88 314.4 380.3 315.07 378 316C375.7 316.93 373 318.23 370 319.4C367 320.57 363.33 322.07 360 323C356.67 323.93 352.67 324.45 350 325C347.33 325.55 346.5 325.97 344 326.3C341.5 326.63 338 327 335 327C332 327 329.17 326.8 326 326.3C322.83 325.8 319 324.85 316 324C313 323.15 310.67 322.2 308 321.2C305.33 320.2 302.67 318.93 300 318C297.33 317.07 294.68 316.32 292 315.6C289.32 314.88 286.2 314.32 283.9 313.7C281.6 313.08 280.12 312.38 278.2 311.9C276.28 311.42 274.33 311.13 272.4 310.8C270.47 310.47 268.33 310.07 266.6 309.9C264.87 309.73 263.27 309.85 262 309.8C260.73 309.75 259.5 309.63 259 309.6Z" fill="#4a6183" stroke="#585e71" stroke-width="0.75" />
<path d="M408 308.4C408.77 308.3 410.93 308.05 412.6 307.8C414.27 307.55 415.93 307.5 418 306.9C420.07 306.3 422.55 305.22 425 304.2C427.45 303.18 430.13 302.07 432.7 300.8C435.27 299.53 437.83 298.05 440.4 296.6C442.97 295.15 445.53 293.47 448.1 292.1C450.67 290.73 453.48 289.42 455.8 288.4C458.12 287.38 459.83 286.72 462 286C464.17 285.28 466.53 284.68 468.8 284.1C471.07 283.52 473.53 282.88 475.6 282.5C477.67 282.12 480.27 281.92 481.2 281.8L481.2 336.8C480.27 336.73 477.67 336.67 475.6 336.4C473.53 336.13 471.07 335.77 468.8 335.2C466.53 334.63 464.17 333.82 462 333C459.83 332.18 458.12 331.38 455.8 330.3C453.48 329.22 450.67 327.85 448.1 326.5C445.53 325.15 442.97 323.62 440.4 322.2C437.83 320.78 435.27 319.28 432.7 318C430.13 316.72 427.45 315.47 425 314.5C422.55 313.53 420.07 312.75 418 312.2C415.93 311.65 414.27 311.43 412.6 311.2C410.93 310.97 408.77 310.87 408 310.8Z" fill="#b4b5c0" stroke="#585e71" stroke-width="0.75" />
<path d="M408 308.4C408.77 308.3 410.93 308.05 412.6 307.8C414.27 307.55 415.93 307.5 418 306.9C420.07 306.3 422.55 305.22 425 304.2C427.45 303.18 430.13 302.07 432.7 300.8C435.27 299.53 437.83 298.05 440.4 296.6C442.97 295.15 445.53 293.47 448.1 292.1C450.67 290.73 453.48 289.42 455.8 288.4C458.12 287.38 459.83 286.72 462 286C464.17 285.28 466.53 284.68 468.8 284.1C471.07 283.52 473.53 282.88 475.6 282.5C477.67 282.12 480.27 281.92 481.2 281.8L481.2 283.36C480.27 283.48 477.67 283.7 475.6 284.06C473.53 284.42 471.07 285 468.8 285.54C466.53 286.08 464.17 286.64 462 287.32C459.83 288 458.12 288.63 455.8 289.6C453.48 290.57 450.67 291.81 448.1 293.12C445.53 294.43 442.97 296.05 440.4 297.44C437.83 298.83 435.27 300.25 432.7 301.46C430.13 302.67 427.45 303.72 425 304.68C422.55 305.64 420.07 306.64 418 307.2C415.93 307.76 414.27 307.81 412.6 308.04C410.93 308.27 408.77 308.49 408 308.58Z" fill="#e29d33" stroke="none" stroke-width="0" />
<path d="M408 308.7C408.77 308.62 410.93 308.42 412.6 308.2C414.27 307.98 415.93 307.93 418 307.4C420.07 306.87 422.55 305.92 425 305C427.45 304.08 430.13 303.07 432.7 301.9C435.27 300.73 437.83 299.35 440.4 298C442.97 296.65 445.53 295.07 448.1 293.8C450.67 292.53 453.48 291.33 455.8 290.4C458.12 289.47 459.83 288.85 462 288.2C464.17 287.55 466.53 287.02 468.8 286.5C471.07 285.98 473.53 285.45 475.6 285.1C477.67 284.75 480.27 284.52 481.2 284.4L481.2 336.35C480.27 336.28 477.67 336.22 475.6 335.95C473.53 335.68 471.07 335.32 468.8 334.75C466.53 334.18 464.17 333.37 462 332.55C459.83 331.73 458.12 330.93 455.8 329.85C453.48 328.77 450.67 327.4 448.1 326.05C445.53 324.7 442.97 323.17 440.4 321.75C437.83 320.33 435.27 318.83 432.7 317.55C430.13 316.27 427.45 315.02 425 314.05C422.55 313.08 420.07 312.3 418 311.75C415.93 311.2 414.27 310.98 412.6 310.75C410.93 310.52 408.77 310.42 408 310.35Z" fill="#4a6183" stroke="#585e71" stroke-width="0.75" />
<rect x="188.2" y="234.3" width="1.6" height="150.6" fill="#fff" fill-opacity=".68"/>
<rect x="261.2" y="234.3" width="1.6" height="150.6" fill="#fff" fill-opacity=".68"/>
<rect x="334.2" y="234.3" width="1.6" height="150.6" fill="#fff" fill-opacity=".68"/>
<rect x="407.2" y="234.3" width="1.6" height="150.6" fill="#fff" fill-opacity=".68"/>
<rect x="480.4" y="234.3" width="1.6" height="150.6" fill="#fff" fill-opacity=".68"/>
<text x="99.1" y="312.8" class="gn" textLength="42.7" lengthAdjust="spacingAndGlyphs">SMYD1, TBPL1</text>
<text x="167" y="291.8" class="gn" textLength="39.4" lengthAdjust="spacingAndGlyphs">KRAS, ASXL2,</text>
<text x="184.2" y="300.7" class="gn" textLength="12.8" lengthAdjust="spacingAndGlyphs">FLT3</text>
<text x="436.1" y="311.8" class="gw" textLength="32.1" lengthAdjust="spacingAndGlyphs">KIT, STAG2</text>
<circle cx="26" cy="289" r="4.6" fill="#d3cfd3" stroke="#1c1c1c" stroke-width="1"/><circle cx="26.6" cy="291" r="1.15" fill="#111"/><circle cx="26" cy="302.2" r="4.6" fill="#d3cfd3" stroke="#1c1c1c" stroke-width="1"/><circle cx="28" cy="302.2" r="1.15" fill="#111"/><circle cx="26" cy="315.4" r="4.6" fill="#d3cfd3" stroke="#1c1c1c" stroke-width="1"/><circle cx="26" cy="328.4" r="4.6" fill="#d3cfd3" stroke="#1c1c1c" stroke-width="1"/><circle cx="37.85" cy="283.1" r="4.6" fill="#d3cfd3" stroke="#1c1c1c" stroke-width="1"/><circle cx="35.85" cy="283.1" r="1.15" fill="#111"/><circle cx="37.85" cy="296.3" r="4.6" fill="#d3cfd3" stroke="#1c1c1c" stroke-width="1"/><circle cx="37.85" cy="294" r="1.15" fill="#111"/><circle cx="37.85" cy="322.75" r="4.6" fill="#d3cfd3" stroke="#1c1c1c" stroke-width="1"/><circle cx="37.85" cy="324.55" r="1.15" fill="#111"/><circle cx="37.85" cy="336" r="4.6" fill="#d3cfd3" stroke="#1c1c1c" stroke-width="1"/><circle cx="35.95" cy="336" r="1.15" fill="#111"/><circle cx="37.85" cy="309.6" r="4.2" fill="#0a0a0a"/><rect x="37" y="308.75" width="1.7" height="1.7" fill="#eee"/>
</g>
<defs><clipPath id="cB"><rect x="25.7" y="234.3" width="485.8" height="150.6"/></clipPath></defs>
<text x="8.1" y="219.3" class="pl">B</text>
<text x="25.9" y="229.4" class="pn" textLength="25.6" lengthAdjust="spacingAndGlyphs">AML57</text>
<text x="158.7" y="227.2" class="tp" textLength="29.4" lengthAdjust="spacingAndGlyphs">Diagnosis</text>
<path d="M186.8 230.1 h4.4 l-2.2 3.6z" fill="#111"/>
<text x="225" y="227.2" class="tp" textLength="35.2" lengthAdjust="spacingAndGlyphs">Remission 1</text>
<path d="M259.8 230.1 h4.4 l-2.2 3.6z" fill="#111"/>
<text x="304.7" y="227.2" class="tp" textLength="28.2" lengthAdjust="spacingAndGlyphs">Relapse 1</text>
<path d="M332.8 230.1 h4.4 l-2.2 3.6z" fill="#111"/>
<text x="371.15" y="227.2" class="tp" textLength="36.1" lengthAdjust="spacingAndGlyphs">Remission 2</text>
<path d="M405.8 230.1 h4.4 l-2.2 3.6z" fill="#111"/>
<text x="450.8" y="227.2" class="tp" textLength="29.1" lengthAdjust="spacingAndGlyphs">Relapse 2</text>
<path d="M479 230.1 h4.4 l-2.2 3.6z" fill="#111"/>
<rect x="193.3" y="248.95" width="23.1" height="7.3" fill="#e6e4e7"/><text x="195.6" y="254.75" class="pc" textLength="17.4" lengthAdjust="spacingAndGlyphs">60.25%</text>
<circle cx="189" cy="252.6" r="4.95" fill="#fff" fill-opacity=".82"/><circle cx="189" cy="252.6" r="4.3" fill="#0a0a0a"/><rect x="188.05" y="251.65" width="1.9" height="1.9" fill="#ececf0"/>
<rect x="193.3" y="272.35" width="23.1" height="7.3" fill="#e6e4e7"/><text x="195.7" y="278.15" class="pc" textLength="18.1" lengthAdjust="spacingAndGlyphs">28.28%</text>
<circle cx="189" cy="276" r="4.95" fill="#fff" fill-opacity=".82"/><circle cx="189" cy="276" r="4.3" fill="#0a0a0a"/><rect x="188.05" y="275.05" width="1.9" height="1.9" fill="#ececf0"/><rect x="191.11" y="275.25" width="1.5" height="1.5" fill="#f0a22c"/>
<rect x="193.3" y="335.95" width="23.1" height="7.3" fill="#e6e4e7"/><text x="195.6" y="341.75" class="pc" textLength="17.4" lengthAdjust="spacingAndGlyphs">11.47%</text>
<circle cx="189" cy="339.6" r="4.95" fill="#fff" fill-opacity=".82"/><circle cx="189" cy="339.6" r="4.3" fill="#0a0a0a"/><rect x="188.05" y="338.65" width="1.9" height="1.9" fill="#ececf0"/><rect x="188.25" y="336.12" width="1.5" height="1.5" fill="#4f79b8"/>
<rect x="339.5" y="289.05" width="23.1" height="7.3" fill="#e6e4e7"/><text x="341.8" y="294.85" class="pc" textLength="18.4" lengthAdjust="spacingAndGlyphs">&gt;0.01%</text>
<circle cx="335.2" cy="292.7" r="4.95" fill="#fff" fill-opacity=".82"/><circle cx="335.2" cy="292.7" r="4.3" fill="#0a0a0a"/><rect x="334.25" y="291.75" width="1.9" height="1.9" fill="#ececf0"/><rect x="337.31" y="291.95" width="1.5" height="1.5" fill="#f0a22c"/>
<rect x="339.5" y="303.05" width="23.1" height="7.3" fill="#e6e4e7"/><text x="342.4" y="308.85" class="pc" textLength="17.6" lengthAdjust="spacingAndGlyphs">23.45%</text>
<circle cx="335.2" cy="306.7" r="4.95" fill="#fff" fill-opacity=".82"/><circle cx="335.2" cy="306.7" r="4.3" fill="#0a0a0a"/><rect x="334.25" y="305.75" width="1.9" height="1.9" fill="#ececf0"/><rect x="334.45" y="303.22" width="1.5" height="1.5" fill="#4f79b8"/>
<rect x="339.5" y="323.45" width="23.1" height="7.3" fill="#e6e4e7"/><text x="343.6" y="329.25" class="pc" textLength="16" lengthAdjust="spacingAndGlyphs">1.19%</text>
<circle cx="335.2" cy="327.1" r="4.95" fill="#fff" fill-opacity=".82"/><circle cx="335.2" cy="327.1" r="4.3" fill="#0a0a0a"/><rect x="334.25" y="326.15" width="1.9" height="1.9" fill="#ececf0"/>
<rect x="485.5" y="279.55" width="23.1" height="7.3" fill="#e6e4e7"/><text x="490.3" y="285.35" class="pc" textLength="15.6" lengthAdjust="spacingAndGlyphs">1.77%</text>
<circle cx="481.2" cy="283.2" r="4.95" fill="#fff" fill-opacity=".82"/><circle cx="481.2" cy="283.2" r="4.3" fill="#0a0a0a"/><rect x="480.25" y="282.25" width="1.9" height="1.9" fill="#ececf0"/><rect x="483.31" y="282.45" width="1.5" height="1.5" fill="#f0a22c"/>
<rect x="485.5" y="292.75" width="23.1" height="7.3" fill="#e6e4e7"/><text x="487.7" y="298.55" class="pc" textLength="18.2" lengthAdjust="spacingAndGlyphs">37.52%</text>
<circle cx="481.2" cy="296.4" r="4.95" fill="#fff" fill-opacity=".82"/><circle cx="481.2" cy="296.4" r="4.3" fill="#0a0a0a"/><rect x="480.25" y="295.45" width="1.9" height="1.9" fill="#ececf0"/><rect x="480.45" y="292.92" width="1.5" height="1.5" fill="#4f79b8"/>
<rect x="485.5" y="332.75" width="23.1" height="7.3" fill="#e6e4e7"/><text x="489.4" y="338.55" class="pc" textLength="15.6" lengthAdjust="spacingAndGlyphs">0.40%</text>
<circle cx="481.2" cy="336.4" r="4.95" fill="#fff" fill-opacity=".82"/><circle cx="481.2" cy="336.4" r="4.3" fill="#0a0a0a"/><rect x="480.25" y="335.45" width="1.9" height="1.9" fill="#ececf0"/>
<circle cx="29.6" cy="392" r="2.95" fill="#cac6ca"/>
<text x="36.2" y="393.75" class="lg" textLength="48.8" lengthAdjust="spacingAndGlyphs">Founding (Clone 1)</text>
<circle cx="109" cy="392" r="2.95" fill="#d4953c"/>
<text x="115.7" y="393.75" class="lg" textLength="64.3" lengthAdjust="spacingAndGlyphs">Primary Specific (Clone 2)</text>
<circle cx="205.6" cy="392" r="2.95" fill="#4a6183"/>
<text x="212.2" y="393.75" class="lg" textLength="67.8" lengthAdjust="spacingAndGlyphs">Relapse Enriched (Clone 3)</text>
<g clip-path="url(#cC)">
<rect x="25.7" y="437.3" width="485.8" height="150.6" fill="url(#bg)"/>
<rect x="481.2" y="437.3" width="30.3" height="150.6" fill="url(#bg2)"/>
<path d="M43.5 512.4C44.2 512.33 45.72 512.27 47.7 512C49.68 511.73 52.83 511.32 55.4 510.8C57.97 510.28 60.53 509.6 63.1 508.9C65.67 508.2 67.98 507.53 70.8 506.6C73.62 505.67 76.8 504.63 80 503.3C83.2 501.97 86.67 500.28 90 498.6C93.33 496.92 96.33 495.13 100 493.2C103.67 491.27 108 489.03 112 487C116 484.97 120.33 482.83 124 481C127.67 479.17 130.67 477.67 134 476C137.33 474.33 140.67 472.5 144 471C147.33 469.5 150.67 468.3 154 467C157.33 465.7 161 464.23 164 463.2C167 462.17 169.33 461.47 172 460.8C174.67 460.13 177.17 459.63 180 459.2C182.83 458.77 186.33 457.9 189 458.2C191.67 458.5 193.5 459.7 196 461C198.5 462.3 201.5 464.23 204 466C206.5 467.77 208.67 469.6 211 471.6C213.33 473.6 216 476.1 218 478C220 479.9 221.33 481.27 223 483C224.67 484.73 226.5 486.75 228 488.4C229.5 490.05 230.37 491.1 232 492.9C233.63 494.7 235.88 497.28 237.8 499.2C239.72 501.12 241.58 502.85 243.5 504.4C245.42 505.95 247.38 507.43 249.3 508.5C251.22 509.57 252.88 510.3 255 510.8C257.12 511.3 260.83 511.38 262 511.5L262 513.4C260.83 513.53 257.12 513.63 255 514.2C252.88 514.77 251.22 515.73 249.3 516.8C247.38 517.87 245.42 519.1 243.5 520.6C241.58 522.1 239.72 523.88 237.8 525.8C235.88 527.72 233.63 529.9 232 532.1C230.37 534.3 229.5 536.75 228 539C226.5 541.25 224.67 543.6 223 545.6C221.33 547.6 219.67 549.27 218 551C216.33 552.73 214.67 554.5 213 556C211.33 557.5 209.67 558.83 208 560C206.33 561.17 204.67 562.1 203 563C201.33 563.9 199.5 564.77 198 565.4C196.5 566.03 195.5 566.47 194 566.8C192.5 567.13 190.83 567.37 189 567.4C187.17 567.43 185.17 567.23 183 567C180.83 566.77 179.17 566.67 176 566C172.83 565.33 167.67 564 164 563C160.33 562 157.33 561.17 154 560C150.67 558.83 147.33 557.5 144 556C140.67 554.5 137.33 552.83 134 551C130.67 549.17 127.67 547.17 124 545C120.33 542.83 116 540.23 112 538C108 535.77 103.67 533.5 100 531.6C96.33 529.7 93.33 528.27 90 526.6C86.67 524.93 83.2 523 80 521.6C76.8 520.2 73.62 519.17 70.8 518.2C67.98 517.23 65.67 516.52 63.1 515.8C60.53 515.08 57.97 514.4 55.4 513.9C52.83 513.4 49.68 513.05 47.7 512.8C45.72 512.55 44.2 512.47 43.5 512.4Z" fill="#cac6ca" stroke="#585e71" stroke-width="0.75" />
<path d="M152.8 503.3C153.42 503.12 155.3 502.92 156.5 502.2C157.7 501.48 158.75 500.47 160 499C161.25 497.53 162.67 495.4 164 493.4C165.33 491.4 166.67 489.4 168 487C169.33 484.6 170.67 481.67 172 479C173.33 476.33 174.67 473.33 176 471C177.33 468.67 178.67 466.73 180 465C181.33 463.27 182.83 461.62 184 460.6C185.17 459.58 186.17 459.23 187 458.9C187.83 458.57 187.5 458.18 189 458.6C190.5 459.02 193.5 460.1 196 461.4C198.5 462.7 201.5 464.63 204 466.4C206.5 468.17 208.67 470 211 472C213.33 474 216 476.5 218 478.4C220 480.3 221.33 481.67 223 483.4C224.67 485.13 226.5 487.15 228 488.8C229.5 490.45 230.37 491.5 232 493.3C233.63 495.1 235.88 497.68 237.8 499.6C239.72 501.52 241.58 503.25 243.5 504.8C245.42 506.35 247.38 507.83 249.3 508.9C251.22 509.97 253.05 510.7 255 511.2C256.95 511.7 260 511.78 261 511.9L261 512.3C260 512.37 256.95 512.33 255 512.7C253.05 513.07 251.22 513.77 249.3 514.5C247.38 515.23 245.42 516.08 243.5 517.1C241.58 518.12 239.72 519.35 237.8 520.6C235.88 521.85 233.63 523.3 232 524.6C230.37 525.9 229.5 527 228 528.4C226.5 529.8 224.67 531.63 223 533C221.33 534.37 219.67 535.4 218 536.6C216.33 537.8 214.67 539.13 213 540.2C211.33 541.27 209.67 542.17 208 543C206.33 543.83 204.67 544.6 203 545.2C201.33 545.8 199.5 546.23 198 546.6C196.5 546.97 195.5 547.27 194 547.4C192.5 547.53 190.67 547.8 189 547.4C187.33 547 185.33 545.97 184 545C182.67 544.03 182 542.93 181 541.6C180 540.27 179 538.77 178 537C177 535.23 176 533 175 531C174 529 173.17 527 172 525C170.83 523 169.33 521 168 519C166.67 517 165.33 514.83 164 513C162.67 511.17 161.25 509.37 160 508C158.75 506.63 157.7 505.58 156.5 504.8C155.3 504.02 153.42 503.55 152.8 503.3Z" fill="#d4953c" stroke="#585e71" stroke-width="0.75" />
<path d="M152 557.4C153 557.27 156 557 158 556.6C160 556.2 162 555.57 164 555C166 554.43 168 553.87 170 553.2C172 552.53 174.33 551.63 176 551C177.67 550.37 178.67 549.97 180 549.4C181.33 548.83 182.5 547.88 184 547.6C185.5 547.32 187.33 547.68 189 547.7C190.67 547.72 192.5 547.83 194 547.7C195.5 547.57 196.5 547.27 198 546.9C199.5 546.53 201.33 546.1 203 545.5C204.67 544.9 206.33 544.13 208 543.3C209.67 542.47 211.33 541.57 213 540.5C214.67 539.43 216.33 538.1 218 536.9C219.67 535.7 221.33 534.67 223 533.3C224.67 531.93 226.5 530.1 228 528.7C229.5 527.3 230.37 526.2 232 524.9C233.63 523.6 235.88 522.15 237.8 520.9C239.72 519.65 241.58 518.42 243.5 517.4C245.42 516.38 247.38 515.53 249.3 514.8C251.22 514.07 253.05 513.37 255 513C256.95 512.63 260 512.67 261 512.6L261 512.9C260 513 256.95 512.97 255 513.5C253.05 514.03 251.22 515.03 249.3 516.1C247.38 517.17 245.42 518.4 243.5 519.9C241.58 521.4 239.72 523.18 237.8 525.1C235.88 527.02 233.63 529.2 232 531.4C230.37 533.6 229.5 536.05 228 538.3C226.5 540.55 224.67 542.9 223 544.9C221.33 546.9 219.67 548.57 218 550.3C216.33 552.03 214.67 553.8 213 555.3C211.33 556.8 209.67 558.13 208 559.3C206.33 560.47 204.67 561.4 203 562.3C201.33 563.2 199.5 564.07 198 564.7C196.5 565.33 195.5 565.78 194 566.1C192.5 566.42 190.83 566.62 189 566.6C187.17 566.58 185.17 566.33 183 566C180.83 565.67 178.17 565.12 176 564.6C173.83 564.08 172 563.5 170 562.9C168 562.3 166 561.65 164 561C162 560.35 160 559.6 158 559C156 558.4 153 557.67 152 557.4Z" fill="#4a6183" stroke="#585e71" stroke-width="0.75" />
<path d="M164 557.4C166 557.37 171.83 557.27 176 557.2C180.17 557.13 185.33 557.3 189 557C192.67 556.7 194.83 556.23 198 555.4C201.17 554.57 204.67 553.73 208 552C211.33 550.27 214.67 547.83 218 545C221.33 542.17 224.7 538.4 228 535C231.3 531.6 235.22 527.17 237.8 524.6C240.38 522.03 241.58 521.03 243.5 519.6C245.42 518.17 247.38 517 249.3 516C251.22 515 254.05 514 255 513.6" fill="none" stroke="#8590a6" stroke-width="0.55"/>
<path d="M262 511.5C262.77 511.47 264.87 511.62 266.6 511.3C268.33 510.98 270.72 510.17 272.4 509.6C274.08 509.03 274.85 509.2 276.7 507.9C278.55 506.6 281.25 504.05 283.5 501.8C285.75 499.55 287.97 496.98 290.2 494.4C292.43 491.82 294.67 488.98 296.9 486.3C299.13 483.62 301.35 480.77 303.6 478.3C305.85 475.83 308.15 473.57 310.4 471.5C312.65 469.43 314.87 467.47 317.1 465.9C319.33 464.33 321.55 463.07 323.8 462.1C326.05 461.13 328.73 460.57 330.6 460.1C332.47 459.63 333.6 459.35 335 459.3C336.4 459.25 337.72 459.43 339 459.8C340.28 460.17 340.8 460.32 342.7 461.5C344.6 462.68 347.85 464.85 350.4 466.9C352.95 468.95 355.43 471.37 358 473.8C360.57 476.23 363.22 478.93 365.8 481.5C368.38 484.07 370.93 486.75 373.5 489.2C376.07 491.65 378.65 494.15 381.2 496.2C383.75 498.25 386.25 499.97 388.8 501.5C391.35 503.03 393.93 504.28 396.5 505.4C399.07 506.52 402.28 507.68 404.2 508.2C406.12 508.72 407.37 508.45 408 508.5L408 517.4C407.37 517.43 406.12 517.25 404.2 517.6C402.28 517.95 399.07 518.52 396.5 519.5C393.93 520.48 391.35 521.92 388.8 523.5C386.25 525.08 383.75 526.92 381.2 529C378.65 531.08 376.07 533.57 373.5 536C370.93 538.43 368.38 540.97 365.8 543.6C363.22 546.23 360.57 549.07 358 551.8C355.43 554.53 352.73 558.07 350.4 560C348.07 561.93 345.73 562.6 344 563.4C342.27 564.2 341.5 564.47 340 564.8C338.5 565.13 336.72 565.5 335 565.4C333.28 565.3 331.62 564.97 329.7 564.2C327.78 563.43 325.82 562.27 323.5 560.8C321.18 559.33 318.35 557.45 315.8 555.4C313.25 553.35 310.75 550.93 308.2 548.5C305.65 546.07 303.07 543.37 300.5 540.8C297.93 538.23 295.37 535.67 292.8 533.1C290.23 530.53 287.67 527.72 285.1 525.4C282.53 523.08 279.97 520.87 277.4 519.2C274.83 517.53 271.6 516.28 269.7 515.4C267.8 514.52 267.28 514.23 266 513.9C264.72 513.57 262.67 513.48 262 513.4Z" fill="#dad7dc" stroke="#585e71" stroke-width="0.75" />
<path d="M264 511.9C264.67 511.8 266.67 511.55 268 511.3C269.33 511.05 270.55 510.82 272 510.4C273.45 509.98 274.78 509.9 276.7 508.8C278.62 507.7 281.25 505.83 283.5 503.8C285.75 501.77 287.97 499.07 290.2 496.6C292.43 494.13 294.67 491.53 296.9 489C299.13 486.47 301.35 483.82 303.6 481.4C305.85 478.98 308.15 476.53 310.4 474.5C312.65 472.47 314.87 470.7 317.1 469.2C319.33 467.7 321.55 466.4 323.8 465.5C326.05 464.6 328.73 464.13 330.6 463.8C332.47 463.47 333.6 463.47 335 463.5C336.4 463.53 337.72 463.68 339 464C340.28 464.32 340.8 464.27 342.7 465.4C344.6 466.53 347.85 468.8 350.4 470.8C352.95 472.8 355.43 475.1 358 477.4C360.57 479.7 363.22 482.25 365.8 484.6C368.38 486.95 370.93 489.27 373.5 491.5C376.07 493.73 378.65 496.07 381.2 498C383.75 499.93 386.25 501.67 388.8 503.1C391.35 504.53 394.18 505.7 396.5 506.6C398.82 507.5 401.67 508.18 402.7 508.5L402 508.4C401.08 508.23 398.7 507.83 396.5 507.4C394.3 506.97 391.35 506.43 388.8 505.8C386.25 505.17 383.75 504.48 381.2 503.6C378.65 502.72 376.07 501.62 373.5 500.5C370.93 499.38 368.38 498.13 365.8 496.9C363.22 495.67 360.57 494.38 358 493.1C355.43 491.82 352.95 490.28 350.4 489.2C347.85 488.12 345.27 487.17 342.7 486.6C340.13 486.03 337.02 485.85 335 485.8C332.98 485.75 332.47 486.03 330.6 486.3C328.73 486.57 326.05 486.88 323.8 487.4C321.55 487.92 319.33 488.57 317.1 489.4C314.87 490.23 312.65 491.33 310.4 492.4C308.15 493.47 305.85 494.57 303.6 495.8C301.35 497.03 299.13 498.47 296.9 499.8C294.67 501.13 292.43 502.57 290.2 503.8C287.97 505.03 285.75 506.18 283.5 507.2C281.25 508.22 278.62 509.27 276.7 509.9C274.78 510.53 273.45 510.7 272 511C270.55 511.3 269.33 511.52 268 511.7C266.67 511.88 264.67 512.03 264 512.1Z" fill="#d4953c" stroke="#585e71" stroke-width="0.75" />
<path d="M264 512.3C264.67 512.27 266.67 512.2 268 512.1C269.33 512 270.55 511.92 272 511.7C273.45 511.48 274.78 511.25 276.7 510.8C278.62 510.35 281.25 509.82 283.5 509C285.75 508.18 287.97 506.98 290.2 505.9C292.43 504.82 294.67 503.7 296.9 502.5C299.13 501.3 301.35 499.82 303.6 498.7C305.85 497.58 308.15 496.78 310.4 495.8C312.65 494.82 314.87 493.63 317.1 492.8C319.33 491.97 321.55 491.27 323.8 490.8C326.05 490.33 328.73 490.18 330.6 490C332.47 489.82 332.98 489.57 335 489.7C337.02 489.83 340.13 490.17 342.7 490.8C345.27 491.43 347.85 492.48 350.4 493.5C352.95 494.52 355.43 495.77 358 496.9C360.57 498.03 363.22 499.25 365.8 500.3C368.38 501.35 370.93 502.32 373.5 503.2C376.07 504.08 378.65 504.93 381.2 505.6C383.75 506.27 386.25 506.77 388.8 507.2C391.35 507.63 394.13 507.95 396.5 508.2C398.87 508.45 401.08 508.58 403 508.7C404.92 508.82 407.17 508.87 408 508.9L408 517.1C407.37 517.12 406.12 516.9 404.2 517.2C402.28 517.5 399.07 517.98 396.5 518.9C393.93 519.82 391.35 521.2 388.8 522.7C386.25 524.2 383.75 525.93 381.2 527.9C378.65 529.87 376.07 532.2 373.5 534.5C370.93 536.8 368.38 539.2 365.8 541.7C363.22 544.2 360.57 546.87 358 549.5C355.43 552.13 352.73 555.62 350.4 557.5C348.07 559.38 345.73 560.03 344 560.8C342.27 561.57 341.5 561.8 340 562.1C338.5 562.4 336.72 562.72 335 562.6C333.28 562.48 331.62 562.15 329.7 561.4C327.78 560.65 325.82 559.52 323.5 558.1C321.18 556.68 318.35 554.88 315.8 552.9C313.25 550.92 310.75 548.58 308.2 546.2C305.65 543.82 303.07 541.12 300.5 538.6C297.93 536.08 295.37 533.55 292.8 531.1C290.23 528.65 287.67 526.03 285.1 523.9C282.53 521.77 280.92 520.13 277.4 518.3C273.88 516.47 266.23 513.8 264 512.9Z" fill="#4a6183" stroke="#585e71" stroke-width="0.75" />
<path d="M264 511.66C264.67 511.56 266.67 511.36 268 511.09C269.33 510.83 270.55 510.52 272 510.06C273.45 509.6 274.78 509.56 276.7 508.35C278.62 507.14 281.25 504.94 283.5 502.8C285.75 500.66 287.97 498.02 290.2 495.5C292.43 492.98 294.67 490.26 296.9 487.65C299.13 485.04 301.35 482.29 303.6 479.85C305.85 477.41 308.15 475.05 310.4 473C312.65 470.95 314.87 469.08 317.1 467.55C319.33 466.02 321.55 464.73 323.8 463.8C326.05 462.87 328.73 462.35 330.6 461.95C332.47 461.55 333.6 461.41 335 461.4C336.4 461.39 337.72 461.56 339 461.9C340.28 462.24 340.8 462.29 342.7 463.45C344.6 464.61 347.85 466.83 350.4 468.85C352.95 470.88 355.43 473.23 358 475.6C360.57 477.97 363.22 480.59 365.8 483.05C368.38 485.51 370.93 488.01 373.5 490.35C376.07 492.69 378.65 495.11 381.2 497.1C383.75 499.09 386.25 500.82 388.8 502.3C391.35 503.78 394.18 505.04 396.5 506C398.82 506.96 401.67 507.73 402.7 508.08" fill="none" stroke="#80839a" stroke-width="0.4"/>
<path d="M276.7 510.35C277.83 509.98 281.25 509.02 283.5 508.1C285.75 507.18 287.97 506.01 290.2 504.85C292.43 503.69 294.67 502.42 296.9 501.15C299.13 499.88 301.35 498.43 303.6 497.25C305.85 496.07 308.15 495.12 310.4 494.1C312.65 493.08 314.87 491.93 317.1 491.1C319.33 490.27 321.55 489.59 323.8 489.1C326.05 488.61 328.73 488.38 330.6 488.15C332.47 487.92 332.98 487.66 335 487.75C337.02 487.84 340.13 488.1 342.7 488.7C345.27 489.3 347.85 490.3 350.4 491.35C352.95 492.4 355.43 493.79 358 495C360.57 496.21 363.22 497.46 365.8 498.6C368.38 499.74 370.93 500.85 373.5 501.85C376.07 502.85 378.65 503.83 381.2 504.6C383.75 505.38 387.53 506.18 388.8 506.5" fill="none" stroke="#80839a" stroke-width="0.4"/>
<path d="M269.7 515.3C270.98 515.87 274.83 517.19 277.4 518.75C279.97 520.31 282.53 522.42 285.1 524.65C287.67 526.88 290.23 529.59 292.8 532.1C295.37 534.61 297.93 537.16 300.5 539.7C303.07 542.24 305.65 544.94 308.2 547.35C310.75 549.76 313.25 552.13 315.8 554.15C318.35 556.17 321.18 558.01 323.5 559.45C325.82 560.89 327.78 562.04 329.7 562.8C331.62 563.56 333.28 563.89 335 564C336.72 564.11 338.5 563.77 340 563.45C341.5 563.13 342.27 562.88 344 562.1C345.73 561.32 348.07 560.66 350.4 558.75C352.73 556.84 355.43 553.33 358 550.65C360.57 547.97 363.22 545.22 365.8 542.65C368.38 540.08 372.22 536.48 373.5 535.25" fill="none" stroke="#80839a" stroke-width="0.4"/>
<path d="M266 512.9C266.67 513.02 268.1 513.23 270 513.6C271.9 513.97 274.88 514.53 277.4 515.1C279.92 515.67 282.53 516.37 285.1 517C287.67 517.63 290.23 518.32 292.8 518.9C295.37 519.48 297.93 520 300.5 520.5C303.07 521 305.65 521.48 308.2 521.9C310.75 522.32 313.25 522.67 315.8 523C318.35 523.33 320.3 523.67 323.5 523.9C326.7 524.13 331.92 524.58 335 524.4C338.08 524.22 339.5 523.3 342 522.8C344.5 522.3 347.77 521.75 350 521.4C352.23 521.05 353.23 521.02 355.4 520.7C357.57 520.38 360.43 519.98 363 519.5C365.57 519.02 368.22 518.38 370.8 517.8C373.38 517.22 375.93 516.53 378.5 516C381.07 515.47 383.65 515 386.2 514.6C388.75 514.2 391.25 513.85 393.8 513.6C396.35 513.35 399.13 513.2 401.5 513.1C403.87 513 406.92 513.02 408 513L408 513.9C406.92 513.93 403.87 513.97 401.5 514.1C399.13 514.23 396.35 514.42 393.8 514.7C391.25 514.98 388.75 515.35 386.2 515.8C383.65 516.25 381.07 516.78 378.5 517.4C375.93 518.02 373.38 518.8 370.8 519.5C368.22 520.2 365.57 520.95 363 521.6C360.43 522.25 357.57 522.9 355.4 523.4C353.23 523.9 352.23 524.1 350 524.6C347.77 525.1 344.5 525.73 342 526.4C339.5 527.07 338.08 528.52 335 528.6C331.92 528.68 326.7 527.43 323.5 526.9C320.3 526.37 318.35 525.92 315.8 525.4C313.25 524.88 310.75 524.38 308.2 523.8C305.65 523.22 303.07 522.55 300.5 521.9C297.93 521.25 295.37 520.58 292.8 519.9C290.23 519.22 287.67 518.5 285.1 517.8C282.53 517.1 279.92 516.35 277.4 515.7C274.88 515.05 271.9 514.33 270 513.9C268.1 513.47 266.67 513.23 266 513.1Z" fill="#a33245" stroke="none" stroke-width="0" />
<path d="M408 508.5C408.78 508.3 411.53 507.68 412.7 507.3C413.87 506.92 413.5 507.18 415 506.2C416.5 505.22 419.45 503.33 421.7 501.4C423.95 499.47 426.25 497.18 428.5 494.6C430.75 492.02 432.97 488.93 435.2 485.9C437.43 482.87 439.67 479.55 441.9 476.4C444.13 473.25 446.35 469.92 448.6 467C450.85 464.08 453.15 461.27 455.4 458.9C457.65 456.53 459.87 454.6 462.1 452.8C464.33 451 466.55 449.43 468.8 448.1C471.05 446.77 473.53 445.57 475.6 444.8C477.67 444.03 480.27 443.72 481.2 443.5L481.2 581.4C480.27 581.23 477.67 581.08 475.6 580.4C473.53 579.72 471.05 578.6 468.8 577.3C466.55 576 464.33 574.52 462.1 572.6C459.87 570.68 457.65 568.38 455.4 565.8C453.15 563.22 450.85 560.23 448.6 557.1C446.35 553.97 444.13 550.37 441.9 547C439.67 543.63 437.43 540.03 435.2 536.9C432.97 533.77 430.75 530.55 428.5 528.2C426.25 525.85 423.95 524.27 421.7 522.8C419.45 521.33 416.5 520.12 415 519.4C413.5 518.68 413.87 518.82 412.7 518.5C411.53 518.18 408.78 517.67 408 517.5Z" fill="#dad7dc" stroke="#585e71" stroke-width="0.75" />
<path d="M408 508.7C408.78 508.51 411.53 507.92 412.7 507.55C413.87 507.18 413.5 507.44 415 506.5C416.5 505.56 419.45 503.76 421.7 501.9C423.95 500.04 426.25 497.86 428.5 495.35C430.75 492.84 432.97 489.82 435.2 486.85C437.43 483.87 439.67 480.61 441.9 477.5C444.13 474.39 446.35 471.09 448.6 468.2C450.85 465.31 453.15 462.5 455.4 460.15C457.65 457.8 459.87 455.88 462.1 454.1C464.33 452.32 466.55 450.78 468.8 449.45C471.05 448.13 473.53 446.92 475.6 446.15C477.67 445.38 480.27 445.07 481.2 444.85" fill="none" stroke="#80839a" stroke-width="0.4"/>
<path d="M408 508.9C408.78 508.72 411.53 508.15 412.7 507.8C413.87 507.45 413.5 507.7 415 506.8C416.5 505.9 419.45 504.18 421.7 502.4C423.95 500.62 426.25 498.53 428.5 496.1C430.75 493.67 432.97 490.72 435.2 487.8C437.43 484.88 439.67 481.67 441.9 478.6C444.13 475.53 446.35 472.27 448.6 469.4C450.85 466.53 453.15 463.73 455.4 461.4C457.65 459.07 459.87 457.17 462.1 455.4C464.33 453.63 466.55 452.12 468.8 450.8C471.05 449.48 473.53 448.27 475.6 447.5C477.67 446.73 480.27 446.42 481.2 446.2L481.2 580.9C480.27 580.73 477.67 580.58 475.6 579.9C473.53 579.22 471.05 578.1 468.8 576.8C466.55 575.5 464.33 574.02 462.1 572.1C459.87 570.18 457.65 567.88 455.4 565.3C453.15 562.72 450.85 559.73 448.6 556.6C446.35 553.47 444.13 549.87 441.9 546.5C439.67 543.13 437.43 539.53 435.2 536.4C432.97 533.27 430.75 530.05 428.5 527.7C426.25 525.35 423.95 523.77 421.7 522.3C419.45 520.83 416.5 519.62 415 518.9C413.5 518.18 413.87 518.32 412.7 518C411.53 517.68 408.78 517.17 408 517Z" fill="#4a6183" stroke="#585e71" stroke-width="0.75" />
<path d="M408 513C409.03 512.95 412.13 512.95 414.2 512.7C416.27 512.45 418.02 512.15 420.4 511.5C422.78 510.85 426.03 509.65 428.5 508.8C430.97 507.95 432.97 507.2 435.2 506.4C437.43 505.6 439.67 504.82 441.9 504C444.13 503.18 446.35 502.28 448.6 501.5C450.85 500.72 453.15 499.98 455.4 499.3C457.65 498.62 459.87 497.95 462.1 497.4C464.33 496.85 466.55 496.37 468.8 496C471.05 495.63 473.53 495.38 475.6 495.2C477.67 495.02 480.27 494.95 481.2 494.9L481.2 533.1C480.27 533.03 477.67 532.9 475.6 532.7C473.53 532.5 471.05 532.25 468.8 531.9C466.55 531.55 464.33 531.12 462.1 530.6C459.87 530.08 457.65 529.47 455.4 528.8C453.15 528.13 450.85 527.4 448.6 526.6C446.35 525.8 444.13 524.9 441.9 524C439.67 523.1 437.43 522.1 435.2 521.2C432.97 520.3 430.75 519.4 428.5 518.6C426.25 517.8 423.95 517.05 421.7 516.4C419.45 515.75 417.28 515.12 415 514.7C412.72 514.28 409.17 514.03 408 513.9Z" fill="#a33245" stroke="none" stroke-width="0" />
<rect x="188.2" y="437.3" width="1.6" height="150.6" fill="#fff" fill-opacity=".68"/>
<rect x="261.2" y="437.3" width="1.6" height="150.6" fill="#fff" fill-opacity=".68"/>
<rect x="334.2" y="437.3" width="1.6" height="150.6" fill="#fff" fill-opacity=".68"/>
<rect x="407.2" y="437.3" width="1.6" height="150.6" fill="#fff" fill-opacity=".68"/>
<rect x="480.4" y="437.3" width="1.6" height="150.6" fill="#fff" fill-opacity=".68"/>
<text x="111" y="521.6" class="gn" textLength="21.3" lengthAdjust="spacingAndGlyphs">GIGYF2</text>
<text x="199" y="495.4" class="gn" textLength="19" lengthAdjust="spacingAndGlyphs">ENPP6</text>
<text x="302.3" y="512" class="gw" textLength="14.1" lengthAdjust="spacingAndGlyphs">JAK2</text>
<text x="444.7" y="517.2" class="gw" textLength="20.3" lengthAdjust="spacingAndGlyphs">NCOR1</text>
<circle cx="26" cy="491.8" r="4.6" fill="#d3cfd3" stroke="#1c1c1c" stroke-width="1"/><circle cx="26.6" cy="493.8" r="1.15" fill="#111"/><circle cx="26" cy="505" r="4.6" fill="#d3cfd3" stroke="#1c1c1c" stroke-width="1"/><circle cx="28" cy="505" r="1.15" fill="#111"/><circle cx="26" cy="518.2" r="4.6" fill="#d3cfd3" stroke="#1c1c1c" stroke-width="1"/><circle cx="26" cy="531.2" r="4.6" fill="#d3cfd3" stroke="#1c1c1c" stroke-width="1"/><circle cx="37.85" cy="485.9" r="4.6" fill="#d3cfd3" stroke="#1c1c1c" stroke-width="1"/><circle cx="35.85" cy="485.9" r="1.15" fill="#111"/><circle cx="37.85" cy="499.1" r="4.6" fill="#d3cfd3" stroke="#1c1c1c" stroke-width="1"/><circle cx="37.85" cy="496.8" r="1.15" fill="#111"/><circle cx="37.85" cy="525.55" r="4.6" fill="#d3cfd3" stroke="#1c1c1c" stroke-width="1"/><circle cx="37.85" cy="527.35" r="1.15" fill="#111"/><circle cx="37.85" cy="538.8" r="4.6" fill="#d3cfd3" stroke="#1c1c1c" stroke-width="1"/><circle cx="35.95" cy="538.8" r="1.15" fill="#111"/><circle cx="37.85" cy="512.4" r="4.2" fill="#0a0a0a"/><rect x="37" y="511.55" width="1.7" height="1.7" fill="#eee"/>
</g>
<defs><clipPath id="cC"><rect x="25.7" y="437.3" width="485.8" height="150.6"/></clipPath></defs>
<text x="8.3" y="423.6" class="pl">C</text>
<text x="25.9" y="432.1" class="pn" textLength="25.6" lengthAdjust="spacingAndGlyphs">AML05</text>
<text x="158.7" y="428.8" class="tp" textLength="29.4" lengthAdjust="spacingAndGlyphs">Diagnosis</text>
<path d="M186.8 433.1 h4.4 l-2.2 3.6z" fill="#111"/>
<text x="225" y="428.8" class="tp" textLength="35.2" lengthAdjust="spacingAndGlyphs">Remission 1</text>
<path d="M259.8 433.1 h4.4 l-2.2 3.6z" fill="#111"/>
<text x="304.7" y="428.8" class="tp" textLength="28.2" lengthAdjust="spacingAndGlyphs">Relapse 1</text>
<path d="M332.8 433.1 h4.4 l-2.2 3.6z" fill="#111"/>
<text x="371.15" y="428.8" class="tp" textLength="36.1" lengthAdjust="spacingAndGlyphs">Remission 2</text>
<path d="M405.8 433.1 h4.4 l-2.2 3.6z" fill="#111"/>
<text x="450.8" y="428.8" class="tp" textLength="29.1" lengthAdjust="spacingAndGlyphs">Relapse 2</text>
<path d="M479 433.1 h4.4 l-2.2 3.6z" fill="#111"/>
<rect x="193.3" y="455.35" width="23.1" height="7.3" fill="#e6e4e7"/><text x="195.4" y="461.15" class="pc" textLength="15.2" lengthAdjust="spacingAndGlyphs">0.76%</text>
<circle cx="189" cy="459" r="4.95" fill="#fff" fill-opacity=".82"/><circle cx="189" cy="459" r="4.3" fill="#0a0a0a"/><rect x="188.05" y="458.05" width="1.9" height="1.9" fill="#ececf0"/>
<rect x="193.3" y="502.35" width="23.1" height="7.3" fill="#e6e4e7"/><text x="195.4" y="508.15" class="pc" textLength="18.2" lengthAdjust="spacingAndGlyphs">63.16%</text>
<circle cx="189" cy="506" r="4.95" fill="#fff" fill-opacity=".82"/><circle cx="189" cy="506" r="4.3" fill="#0a0a0a"/><rect x="188.05" y="505.05" width="1.9" height="1.9" fill="#ececf0"/><rect x="191.11" y="505.25" width="1.5" height="1.5" fill="#f0a22c"/>
<rect x="193.3" y="553.45" width="23.1" height="7.3" fill="#e6e4e7"/><text x="197.4" y="559.25" class="pc" textLength="14.2" lengthAdjust="spacingAndGlyphs">0.08%</text>
<circle cx="189" cy="557.1" r="4.95" fill="#fff" fill-opacity=".82"/><circle cx="189" cy="557.1" r="4.3" fill="#0a0a0a"/><rect x="188.05" y="556.15" width="1.9" height="1.9" fill="#ececf0"/><rect x="185.52" y="556.35" width="1.5" height="1.5" fill="#c0364a"/><rect x="188.25" y="553.62" width="1.5" height="1.5" fill="#4f79b8"/>
<rect x="193.3" y="563.95" width="23.1" height="7.3" fill="#e6e4e7"/><text x="193.6" y="569.75" class="pc" textLength="18.6" lengthAdjust="spacingAndGlyphs">13.04%</text>
<circle cx="189" cy="567.6" r="4.95" fill="#fff" fill-opacity=".82"/><circle cx="189" cy="567.6" r="4.3" fill="#0a0a0a"/><rect x="188.05" y="566.65" width="1.9" height="1.9" fill="#ececf0"/><rect x="188.25" y="564.12" width="1.5" height="1.5" fill="#4f79b8"/>
<rect x="339.5" y="471.55" width="23.1" height="7.3" fill="#e6e4e7"/><text x="341.6" y="477.35" class="pc" textLength="19" lengthAdjust="spacingAndGlyphs">14.54%</text>
<circle cx="335.2" cy="475.2" r="4.95" fill="#fff" fill-opacity=".82"/><circle cx="335.2" cy="475.2" r="4.3" fill="#0a0a0a"/><rect x="334.25" y="474.25" width="1.9" height="1.9" fill="#ececf0"/><rect x="337.31" y="474.45" width="1.5" height="1.5" fill="#f0a22c"/>
<rect x="339.5" y="503.05" width="23.1" height="7.3" fill="#e6e4e7"/><text x="341.2" y="508.85" class="pc" textLength="19.4" lengthAdjust="spacingAndGlyphs">47.32%</text>
<circle cx="335.2" cy="506.7" r="4.95" fill="#fff" fill-opacity=".82"/><circle cx="335.2" cy="506.7" r="4.3" fill="#0a0a0a"/><rect x="334.25" y="505.75" width="1.9" height="1.9" fill="#ececf0"/><rect x="334.45" y="503.22" width="1.5" height="1.5" fill="#4f79b8"/>
<rect x="339.5" y="522.35" width="18.4" height="7.3" fill="#e6e4e7"/><text x="341.5" y="528.15" class="pc" textLength="15.1" lengthAdjust="spacingAndGlyphs">3.14%</text>
<circle cx="335.2" cy="526" r="4.95" fill="#fff" fill-opacity=".82"/><circle cx="335.2" cy="526" r="4.3" fill="#0a0a0a"/><rect x="334.25" y="525.05" width="1.9" height="1.9" fill="#ececf0"/><rect x="331.72" y="525.25" width="1.5" height="1.5" fill="#c0364a"/><rect x="334.45" y="522.52" width="1.5" height="1.5" fill="#4f79b8"/>
<rect x="339.5" y="560.35" width="23.1" height="7.3" fill="#e6e4e7"/><text x="341.4" y="566.15" class="pc" textLength="19.2" lengthAdjust="spacingAndGlyphs">11.17%</text>
<circle cx="335.2" cy="564" r="4.95" fill="#fff" fill-opacity=".82"/><circle cx="335.2" cy="564" r="4.3" fill="#0a0a0a"/><rect x="334.25" y="563.05" width="1.9" height="1.9" fill="#ececf0"/>
<rect x="485.5" y="441.95" width="23.1" height="7.3" fill="#e6e4e7"/><text x="492.6" y="447.75" class="pc" textLength="14.4" lengthAdjust="spacingAndGlyphs">0.21%</text>
<circle cx="481.2" cy="445.6" r="4.95" fill="#fff" fill-opacity=".82"/><circle cx="481.2" cy="445.6" r="4.3" fill="#0a0a0a"/><rect x="480.25" y="444.65" width="1.9" height="1.9" fill="#ececf0"/><rect x="483.31" y="444.85" width="1.5" height="1.5" fill="#f0a22c"/>
<rect x="485.5" y="466.75" width="23.1" height="7.3" fill="#e6e4e7"/><text x="488.6" y="472.55" class="pc" textLength="18.4" lengthAdjust="spacingAndGlyphs">67.69%</text>
<circle cx="481.2" cy="470.4" r="4.95" fill="#fff" fill-opacity=".82"/><circle cx="481.2" cy="470.4" r="4.3" fill="#0a0a0a"/><rect x="480.25" y="469.45" width="1.9" height="1.9" fill="#ececf0"/><rect x="480.45" y="466.92" width="1.5" height="1.5" fill="#4f79b8"/>
<rect x="485.5" y="509.75" width="23.1" height="7.3" fill="#e6e4e7"/><text x="487.6" y="515.55" class="pc" textLength="18.8" lengthAdjust="spacingAndGlyphs">27.54%</text>
<circle cx="481.2" cy="513.4" r="4.95" fill="#fff" fill-opacity=".82"/><circle cx="481.2" cy="513.4" r="4.3" fill="#0a0a0a"/><rect x="480.25" y="512.45" width="1.9" height="1.9" fill="#ececf0"/><rect x="477.72" y="512.65" width="1.5" height="1.5" fill="#c0364a"/><rect x="480.45" y="509.92" width="1.5" height="1.5" fill="#4f79b8"/>
<rect x="485.5" y="576.95" width="23.1" height="7.3" fill="#e6e4e7"/><text x="491.2" y="582.75" class="pc" textLength="15.2" lengthAdjust="spacingAndGlyphs">4.29%</text>
<circle cx="481.2" cy="580.6" r="4.95" fill="#fff" fill-opacity=".82"/><circle cx="481.2" cy="580.6" r="4.3" fill="#0a0a0a"/><rect x="480.25" y="579.65" width="1.9" height="1.9" fill="#ececf0"/>
<circle cx="29.6" cy="595" r="2.95" fill="#cac6ca"/>
<text x="36.2" y="596.75" class="lg" textLength="48.8" lengthAdjust="spacingAndGlyphs">Founding (Clone 1)</text>
<circle cx="109" cy="595" r="2.95" fill="#d4953c"/>
<text x="115.7" y="596.75" class="lg" textLength="64.3" lengthAdjust="spacingAndGlyphs">Primary Specific (Clone 2)</text>
<circle cx="205.6" cy="595" r="2.95" fill="#4a6183"/>
<text x="212.2" y="596.75" class="lg" textLength="67.8" lengthAdjust="spacingAndGlyphs">Relapse Enriched (Clone 3)</text>
<circle cx="306" cy="595" r="2.95" fill="#a33245"/>
<text x="312.5" y="596.75" class="lg" textLength="65" lengthAdjust="spacingAndGlyphs">Relapse Specific (Clone 4)</text>
<g clip-path="url(#cD)">
<rect x="25.7" y="639.8" width="485.8" height="150.6" fill="url(#bg)"/>
<rect x="481.2" y="639.8" width="30.3" height="150.6" fill="url(#bg2)"/>
<path d="M43 715C43.78 714.92 45.63 714.83 47.7 714.5C49.77 714.17 52.83 713.67 55.4 713C57.97 712.33 60.53 711.45 63.1 710.5C65.67 709.55 67.98 708.57 70.8 707.3C73.62 706.03 76.8 704.6 80 702.9C83.2 701.2 86.67 699.22 90 697.1C93.33 694.98 96.8 692.43 100 690.2C103.2 687.97 106.03 686 109.2 683.7C112.37 681.4 115.78 678.82 119 676.4C122.22 673.98 125.33 671.5 128.5 669.2C131.67 666.9 134.8 664.68 138 662.6C141.2 660.52 144.53 658.42 147.7 656.7C150.87 654.98 153.8 653.57 157 652.3C160.2 651.03 163.73 650.02 166.9 649.1C170.07 648.18 172.78 647.45 176 646.8C179.22 646.15 184.03 645.52 186.2 645.2C188.37 644.88 187.92 644.87 189 644.9C190.08 644.93 191.45 645.08 192.7 645.4C193.95 645.72 195.22 646.17 196.5 646.8C197.78 647.43 199.15 648.2 200.4 649.2C201.65 650.2 202.73 651.38 204 652.8C205.27 654.22 206.67 655.97 208 657.7C209.33 659.43 210.7 661.28 212 663.2C213.3 665.12 214.55 667.2 215.8 669.2C217.05 671.2 218.22 673.15 219.5 675.2C220.78 677.25 222.17 679.43 223.5 681.5C224.83 683.57 226.22 685.67 227.5 687.6C228.78 689.53 229.95 691.33 231.2 693.1C232.45 694.87 233.73 696.53 235 698.2C236.27 699.87 237.53 701.67 238.8 703.1C240.07 704.53 241.32 705.65 242.6 706.8C243.88 707.95 245.2 709.15 246.5 710C247.8 710.85 249.12 711.42 250.4 711.9C251.68 712.38 252.65 712.67 254.2 712.9C255.75 713.13 258.4 713.22 259.7 713.3C261 713.38 261.03 713.48 262 713.4C262.97 713.32 264.22 713.3 265.5 712.8C266.78 712.3 267.72 711.83 269.7 710.4C271.68 708.97 274.83 706.63 277.4 704.2C279.97 701.77 282.53 698.75 285.1 695.8C287.67 692.85 290.23 689.45 292.8 686.5C295.37 683.55 297.93 680.65 300.5 678.1C303.07 675.55 305.65 673.13 308.2 671.2C310.75 669.27 313.25 667.78 315.8 666.5C318.35 665.22 320.93 664.22 323.5 663.5C326.07 662.78 329.28 662.43 331.2 662.2C333.12 661.97 333.53 662 335 662.1C336.47 662.2 338.5 662.42 340 662.8C341.5 663.18 342.5 663.7 344 664.4C345.5 665.1 347.42 666.1 349 667C350.58 667.9 352 668.6 353.5 669.8C355 671 355.95 672.05 358 674.2C360.05 676.35 363.22 679.87 365.8 682.7C368.38 685.53 370.93 688.38 373.5 691.2C376.07 694.02 378.65 697.05 381.2 699.6C383.75 702.15 386.25 704.57 388.8 706.5C391.35 708.43 393.93 710.05 396.5 711.2C399.07 712.35 402.28 713 404.2 713.4C406.12 713.8 407.37 713.57 408 713.6L408 714.9C407.37 714.9 406.12 714.68 404.2 714.9C402.28 715.12 399.07 715.48 396.5 716.2C393.93 716.92 391.35 717.8 388.8 719.2C386.25 720.6 383.75 722.55 381.2 724.6C378.65 726.65 376.07 729.07 373.5 731.5C370.93 733.93 368.38 736.5 365.8 739.2C363.22 741.9 359.97 745.6 358 747.7C356.03 749.8 355.27 750.52 354 751.8C352.73 753.08 351.65 754.3 350.4 755.4C349.15 756.5 347.78 757.5 346.5 758.4C345.22 759.3 343.95 760.13 342.7 760.8C341.45 761.47 340.28 761.97 339 762.4C337.72 762.83 336.3 763.22 335 763.4C333.7 763.58 333.12 763.68 331.2 763.5C329.28 763.32 326.07 763.02 323.5 762.3C320.93 761.58 318.35 760.48 315.8 759.2C313.25 757.92 310.75 756.52 308.2 754.6C305.65 752.68 303.07 750.27 300.5 747.7C297.93 745.13 295.37 742.15 292.8 739.2C290.23 736.25 287.67 732.82 285.1 730C282.53 727.18 279.97 724.48 277.4 722.3C274.83 720.12 271.68 718.05 269.7 716.9C267.72 715.75 266.78 715.75 265.5 715.4C264.22 715.05 262.85 714.9 262 714.8C261.15 714.7 261.7 714.67 260.4 714.8C259.1 714.93 255.87 715.23 254.2 715.6C252.53 715.97 251.68 716.4 250.4 717C249.12 717.6 247.8 718.3 246.5 719.2C245.2 720.1 243.88 721.23 242.6 722.4C241.32 723.57 240.07 724.77 238.8 726.2C237.53 727.63 236.27 729.33 235 731C233.73 732.67 232.45 734.43 231.2 736.2C229.95 737.97 228.78 739.68 227.5 741.6C226.22 743.52 224.83 745.67 223.5 747.7C222.17 749.73 220.78 751.88 219.5 753.8C218.22 755.72 217.05 757.43 215.8 759.2C214.55 760.97 213.3 762.73 212 764.4C210.7 766.07 209.33 767.62 208 769.2C206.67 770.78 205.27 772.45 204 773.9C202.73 775.35 201.65 776.68 200.4 777.9C199.15 779.12 197.78 780.3 196.5 781.2C195.22 782.1 193.95 782.65 192.7 783.3C191.45 783.95 190.08 784.85 189 785.1C187.92 785.35 188.37 785.12 186.2 784.8C184.03 784.48 179.22 783.85 176 783.2C172.78 782.55 170.07 781.82 166.9 780.9C163.73 779.98 160.2 778.97 157 777.7C153.8 776.43 150.87 775.02 147.7 773.3C144.53 771.58 141.2 769.48 138 767.4C134.8 765.32 131.67 763.1 128.5 760.8C125.33 758.5 122.22 756.02 119 753.6C115.78 751.18 112.37 748.6 109.2 746.3C106.03 744 103.2 742.03 100 739.8C96.8 737.57 93.33 735.02 90 732.9C86.67 730.78 83.2 728.8 80 727.1C76.8 725.4 73.62 723.97 70.8 722.7C67.98 721.43 65.67 720.45 63.1 719.5C60.53 718.55 57.97 717.67 55.4 717C52.83 716.33 49.77 715.83 47.7 715.5C45.63 715.17 43.78 715.08 43 715Z" fill="#cac6ca" stroke="#585e71" stroke-width="0.75" />
<path d="M153.6 696C154.5 695.8 157.27 695.3 159 694.8C160.73 694.3 161.83 694.13 164 693C166.17 691.87 169.33 689.6 172 688C174.67 686.4 177.83 684.47 180 683.4C182.17 682.33 183.5 682 185 681.6C186.5 681.2 187.67 681.02 189 681C190.33 680.98 191.5 681.17 193 681.5C194.5 681.83 195.5 682.08 198 683C200.5 683.92 204.67 685.33 208 687C211.33 688.67 214.67 690.9 218 693C221.33 695.1 225.67 697.98 228 699.6C230.33 701.22 230.37 701.62 232 702.7C233.63 703.78 235.88 704.95 237.8 706.1C239.72 707.25 241.58 708.63 243.5 709.6C245.42 710.57 247.38 711.23 249.3 711.9C251.22 712.57 253.38 713.25 255 713.6C256.62 713.95 258.33 713.93 259 714L259 714.3C258.33 714.28 257.58 714.32 255 714.2C252.42 714.08 247.33 713.8 243.5 713.6C239.67 713.4 236.25 713.15 232 713C227.75 712.85 222.67 712.82 218 712.7C213.33 712.58 208.83 712.48 204 712.3C199.17 712.12 193 712.05 189 711.6C185 711.15 182.83 710.7 180 709.6C177.17 708.5 174.67 706.77 172 705C169.33 703.23 166.17 700.33 164 699C161.83 697.67 160.73 697.5 159 697C157.27 696.5 154.5 696.17 153.6 696Z" fill="#d4953c" stroke="#585e71" stroke-width="0.75" />
<path d="M152.6 747.4C155.5 747.38 163.93 747.37 170 747.3C176.07 747.23 184.33 747.32 189 747C193.67 746.68 195.33 746.1 198 745.4C200.67 744.7 203 743.83 205 742.8C207 741.77 208.2 740.57 210 739.2C211.8 737.83 213.55 736.38 215.8 734.6C218.05 732.82 220.93 730.42 223.5 728.5C226.07 726.58 228.65 724.77 231.2 723.1C233.75 721.43 236.25 719.72 238.8 718.5C241.35 717.28 243.93 716.43 246.5 715.8C249.07 715.17 252.12 714.92 254.2 714.7C256.28 714.48 258.2 714.53 259 714.5" fill="none" stroke="#4e5568" stroke-width="0.85"/>
<path d="M266 713.4C266.62 713.15 267.8 712.78 269.7 711.9C271.6 711.02 274.83 709.63 277.4 708.1C279.97 706.57 282.53 704.58 285.1 702.7C287.67 700.82 290.23 698.72 292.8 696.8C295.37 694.88 297.93 692.92 300.5 691.2C303.07 689.48 305.65 687.78 308.2 686.5C310.75 685.22 313.25 684.33 315.8 683.5C318.35 682.67 320.93 682.02 323.5 681.5C326.07 680.98 329.28 680.62 331.2 680.4C333.12 680.18 333.2 680.07 335 680.2C336.8 680.33 339.43 680.53 342 681.2C344.57 681.87 347.73 683.05 350.4 684.2C353.07 685.35 355.43 686.55 358 688.1C360.57 689.65 363.22 691.58 365.8 693.5C368.38 695.42 370.93 697.68 373.5 699.6C376.07 701.52 378.65 703.4 381.2 705C383.75 706.6 386.25 708 388.8 709.2C391.35 710.4 394.13 711.47 396.5 712.2C398.87 712.93 401.92 713.37 403 713.6" fill="none" stroke="#585e71" stroke-width="0.7"/>
<path d="M268 713.6C269.57 713.07 274.55 711.58 277.4 710.4C280.25 709.22 282.53 707.78 285.1 706.5C287.67 705.22 290.23 703.88 292.8 702.7C295.37 701.52 298.3 700.18 300.5 699.4C302.7 698.62 305.08 698.23 306 698" fill="none" stroke="#585e71" stroke-width="0.55"/>
<path d="M352 686.2C353 686.77 355.7 688.13 358 689.6C360.3 691.07 363.22 693.1 365.8 695C368.38 696.9 370.93 699.13 373.5 701C376.07 702.87 378.65 704.67 381.2 706.2C383.75 707.73 386.25 709.1 388.8 710.2C391.35 711.3 394.13 712.18 396.5 712.8C398.87 713.42 401.92 713.72 403 713.9" fill="none" stroke="#585e71" stroke-width="0.55"/>
<path d="M264 714.1C264.95 713.95 267.47 713.68 269.7 713.2C271.93 712.72 274.83 712.05 277.4 711.2C279.97 710.35 282.53 709.27 285.1 708.1C287.67 706.93 290.23 705.42 292.8 704.2C295.37 702.98 297.93 701.77 300.5 700.8C303.07 699.83 305.65 699.05 308.2 698.4C310.75 697.75 313.25 697.25 315.8 696.9C318.35 696.55 320.93 696.42 323.5 696.3C326.07 696.18 329.28 696.17 331.2 696.2C333.12 696.23 333.08 696.32 335 696.5C336.92 696.68 340.13 696.92 342.7 697.3C345.27 697.68 347.85 698.22 350.4 698.8C352.95 699.38 355.43 700.02 358 700.8C360.57 701.58 363.22 702.55 365.8 703.5C368.38 704.45 370.93 705.48 373.5 706.5C376.07 707.52 378.65 708.7 381.2 709.6C383.75 710.5 386.25 711.27 388.8 711.9C391.35 712.53 394.13 713.05 396.5 713.4C398.87 713.75 401.42 713.88 403 714C404.58 714.12 405.5 714.08 406 714.1L406 714.5C405.7 714.52 405.78 714.38 404.2 714.6C402.62 714.82 399.07 715.15 396.5 715.8C393.93 716.45 391.35 717.42 388.8 718.5C386.25 719.58 383.75 720.9 381.2 722.3C378.65 723.7 376.07 725.23 373.5 726.9C370.93 728.57 368.38 730.5 365.8 732.3C363.22 734.1 359.97 736.32 358 737.7C356.03 739.08 355.27 739.7 354 740.6C352.73 741.5 351.65 742.32 350.4 743.1C349.15 743.88 347.78 744.67 346.5 745.3C345.22 745.93 343.95 746.45 342.7 746.9C341.45 747.35 340.28 747.73 339 748C337.72 748.27 336.3 748.37 335 748.5C333.7 748.63 333.12 748.82 331.2 748.8C329.28 748.78 326.07 748.72 323.5 748.4C320.93 748.08 318.35 747.67 315.8 746.9C313.25 746.13 310.75 745.08 308.2 743.8C305.65 742.52 303.07 740.98 300.5 739.2C297.93 737.42 295.37 735.27 292.8 733.1C290.23 730.93 287.67 728.38 285.1 726.2C282.53 724.02 279.97 721.67 277.4 720C274.83 718.33 271.93 717.12 269.7 716.2C267.47 715.28 264.95 714.78 264 714.5Z" fill="#4a6183" stroke="#585e71" stroke-width="0.75" />
<path d="M408 713.6C409.17 713.65 412.93 714 415 713.9C417.07 713.8 418.48 713.43 420.4 713C422.32 712.57 424.57 711.93 426.5 711.3C428.43 710.67 430.07 709.95 432 709.2C433.93 708.45 435.17 708.07 438.1 706.8C441.03 705.53 445.75 703.13 449.6 701.6C453.45 700.07 458.13 698.53 461.2 697.6C464.27 696.67 465.7 696.43 468 696C470.3 695.57 472.8 695.18 475 695C477.2 694.82 480.17 694.92 481.2 694.9L481.2 733.2C480.03 733.17 476.65 733.17 474.2 733C471.75 732.83 469.07 732.58 466.5 732.2C463.93 731.82 461.35 731.33 458.8 730.7C456.25 730.07 453.75 729.3 451.2 728.4C448.65 727.5 446.07 726.4 443.5 725.3C440.93 724.2 438.38 722.93 435.8 721.8C433.22 720.67 430.57 719.5 428 718.5C425.43 717.5 422.97 716.35 420.4 715.8C417.83 715.25 414.67 715.32 412.6 715.2C410.53 715.08 408.77 715.12 408 715.1Z" fill="#d9d7df" stroke="#585e71" stroke-width="0.75" />
<path d="M408 713.81C409.17 713.84 412.93 714.07 415 713.97C417.07 713.87 418.48 713.59 420.4 713.21C422.32 712.84 424.57 712.27 426.5 711.72C428.43 711.17 430.07 710.56 432 709.9C433.93 709.24 435.17 708.89 438.1 707.78C441.03 706.66 445.75 704.55 449.6 703.21C453.45 701.88 458.13 700.56 461.2 699.77C464.27 698.98 465.7 698.83 468 698.49C470.3 698.14 472.8 697.86 475 697.7C477.2 697.54 480.17 697.55 481.2 697.52L481.2 699.77C480.17 699.81 477.2 699.87 475 700C472.8 700.14 470.3 700.34 468 700.62C465.7 700.89 464.27 700.97 461.2 701.63C458.13 702.29 453.45 703.43 449.6 704.59C445.75 705.75 441.03 707.63 438.1 708.62C435.17 709.61 433.93 709.92 432 710.5C430.07 711.08 428.43 711.6 426.5 712.08C424.57 712.56 422.32 713.06 420.4 713.39C418.48 713.72 417.07 713.93 415 714.03C412.93 714.13 409.17 714 408 713.99Z" fill="#e29d33" stroke="#585e71" stroke-width="0.5" />
<path d="M410 714.2C410.83 714.18 413.27 714.2 415 714.1C416.73 714 418.48 713.87 420.4 713.6C422.32 713.33 424.57 712.9 426.5 712.5C428.43 712.1 430.07 711.68 432 711.2C433.93 710.72 435.17 710.43 438.1 709.6C441.03 708.77 445.75 707.17 449.6 706.2C453.45 705.23 458.13 704.32 461.2 703.8C464.27 703.28 465.7 703.28 468 703.1C470.3 702.92 472.8 702.82 475 702.7C477.2 702.58 480.17 702.45 481.2 702.4L481.2 731C480.03 730.97 476.65 730.97 474.2 730.8C471.75 730.63 469.07 730.38 466.5 730C463.93 729.62 461.35 729.13 458.8 728.5C456.25 727.87 453.75 727.05 451.2 726.2C448.65 725.35 446.07 724.38 443.5 723.4C440.93 722.42 438.38 721.25 435.8 720.3C433.22 719.35 430.57 718.53 428 717.7C425.43 716.87 423.4 715.82 420.4 715.3C417.4 714.78 411.73 714.72 410 714.6Z" fill="#4a6183" stroke="#585e71" stroke-width="0.75" />
<rect x="188.2" y="639.8" width="1.6" height="150.6" fill="#fff" fill-opacity=".68"/>
<rect x="261.2" y="639.8" width="1.6" height="150.6" fill="#fff" fill-opacity=".68"/>
<rect x="334.2" y="639.8" width="1.6" height="150.6" fill="#fff" fill-opacity=".68"/>
<rect x="407.2" y="639.8" width="1.6" height="150.6" fill="#fff" fill-opacity=".68"/>
<rect x="480.4" y="639.8" width="1.6" height="150.6" fill="#fff" fill-opacity=".68"/>
<text x="114.1" y="720.8" class="gn" textLength="40.3" lengthAdjust="spacingAndGlyphs">WT1, ZNF551</text>
<text x="176.5" y="703.3" class="gn" textLength="37.3" lengthAdjust="spacingAndGlyphs">CSF3R, MGA</text>
<text x="308.4" y="718" class="gw" textLength="52.6" lengthAdjust="spacingAndGlyphs">ASXL2, DYNC1H1</text>
<circle cx="26" cy="693.8" r="4.6" fill="#d3cfd3" stroke="#1c1c1c" stroke-width="1"/><circle cx="26.6" cy="695.8" r="1.15" fill="#111"/><circle cx="26" cy="707" r="4.6" fill="#d3cfd3" stroke="#1c1c1c" stroke-width="1"/><circle cx="28" cy="707" r="1.15" fill="#111"/><circle cx="26" cy="720.2" r="4.6" fill="#d3cfd3" stroke="#1c1c1c" stroke-width="1"/><circle cx="26" cy="733.2" r="4.6" fill="#d3cfd3" stroke="#1c1c1c" stroke-width="1"/><circle cx="37.85" cy="687.9" r="4.6" fill="#d3cfd3" stroke="#1c1c1c" stroke-width="1"/><circle cx="35.85" cy="687.9" r="1.15" fill="#111"/><circle cx="37.85" cy="701.1" r="4.6" fill="#d3cfd3" stroke="#1c1c1c" stroke-width="1"/><circle cx="37.85" cy="698.8" r="1.15" fill="#111"/><circle cx="37.85" cy="727.55" r="4.6" fill="#d3cfd3" stroke="#1c1c1c" stroke-width="1"/><circle cx="37.85" cy="729.35" r="1.15" fill="#111"/><circle cx="37.85" cy="740.8" r="4.6" fill="#d3cfd3" stroke="#1c1c1c" stroke-width="1"/><circle cx="35.95" cy="740.8" r="1.15" fill="#111"/><circle cx="37.85" cy="714.4" r="4.2" fill="#0a0a0a"/><rect x="37" y="713.55" width="1.7" height="1.7" fill="#eee"/>
</g>
<defs><clipPath id="cD"><rect x="25.7" y="639.8" width="485.8" height="150.6"/></clipPath></defs>
<text x="8" y="626.7" class="pl">D</text>
<text x="25.9" y="635.6" class="pn" textLength="25.6" lengthAdjust="spacingAndGlyphs">AML07</text>
<text x="158.7" y="632.4" class="tp" textLength="29.4" lengthAdjust="spacingAndGlyphs">Diagnosis</text>
<path d="M186.8 635.6 h4.4 l-2.2 3.6z" fill="#111"/>
<text x="225" y="632.4" class="tp" textLength="35.2" lengthAdjust="spacingAndGlyphs">Remission 1</text>
<path d="M259.8 635.6 h4.4 l-2.2 3.6z" fill="#111"/>
<text x="304.7" y="632.4" class="tp" textLength="28.2" lengthAdjust="spacingAndGlyphs">Relapse 1</text>
<path d="M332.8 635.6 h4.4 l-2.2 3.6z" fill="#111"/>
<text x="371.15" y="632.4" class="tp" textLength="36.1" lengthAdjust="spacingAndGlyphs">Remission 2</text>
<path d="M405.8 635.6 h4.4 l-2.2 3.6z" fill="#111"/>
<text x="450.8" y="632.4" class="tp" textLength="29.1" lengthAdjust="spacingAndGlyphs">Relapse 2</text>
<path d="M479 635.6 h4.4 l-2.2 3.6z" fill="#111"/>
<rect x="193.3" y="663.35" width="23.1" height="7.3" fill="#e6e4e7"/><text x="195.6" y="669.15" class="pc" textLength="18.1" lengthAdjust="spacingAndGlyphs">78.20%</text>
<circle cx="189" cy="667" r="4.95" fill="#fff" fill-opacity=".82"/><circle cx="189" cy="667" r="4.3" fill="#0a0a0a"/><rect x="188.05" y="666.05" width="1.9" height="1.9" fill="#ececf0"/>
<rect x="193.3" y="682.35" width="23.1" height="7.3" fill="#e6e4e7"/><text x="195.6" y="688.15" class="pc" textLength="18" lengthAdjust="spacingAndGlyphs">21.71%</text>
<circle cx="189" cy="686" r="4.95" fill="#fff" fill-opacity=".82"/><circle cx="189" cy="686" r="4.3" fill="#0a0a0a"/><rect x="188.05" y="685.05" width="1.9" height="1.9" fill="#ececf0"/><rect x="191.11" y="685.25" width="1.5" height="1.5" fill="#f0a22c"/>
<rect x="193.3" y="743.45" width="23.1" height="7.3" fill="#e6e4e7"/><text x="198.6" y="749.25" class="pc" textLength="14.2" lengthAdjust="spacingAndGlyphs">0.09%</text>
<circle cx="189" cy="747.1" r="4.95" fill="#fff" fill-opacity=".82"/><circle cx="189" cy="747.1" r="4.3" fill="#0a0a0a"/><rect x="188.05" y="746.15" width="1.9" height="1.9" fill="#ececf0"/><rect x="188.25" y="743.62" width="1.5" height="1.5" fill="#4f79b8"/>
<rect x="339.5" y="662.35" width="23.1" height="7.3" fill="#e6e4e7"/><text x="342.4" y="668.15" class="pc" textLength="17.6" lengthAdjust="spacingAndGlyphs">37.48%</text>
<circle cx="335.2" cy="666" r="4.95" fill="#fff" fill-opacity=".82"/><circle cx="335.2" cy="666" r="4.3" fill="#0a0a0a"/><rect x="334.25" y="665.05" width="1.9" height="1.9" fill="#ececf0"/>
<rect x="339.5" y="676.95" width="23.1" height="7.3" fill="#e6e4e7"/><text x="344.6" y="682.75" class="pc" textLength="14.8" lengthAdjust="spacingAndGlyphs">0.14%</text>
<circle cx="335.2" cy="680.6" r="4.95" fill="#fff" fill-opacity=".82"/><circle cx="335.2" cy="680.6" r="4.3" fill="#0a0a0a"/><rect x="334.25" y="679.65" width="1.9" height="1.9" fill="#ececf0"/><rect x="337.31" y="679.85" width="1.5" height="1.5" fill="#f0a22c"/>
<rect x="339.5" y="724.65" width="23.1" height="7.3" fill="#e6e4e7"/><text x="342.4" y="730.45" class="pc" textLength="17.6" lengthAdjust="spacingAndGlyphs">37.27%</text>
<circle cx="335.2" cy="728.3" r="4.95" fill="#fff" fill-opacity=".82"/><circle cx="335.2" cy="728.3" r="4.3" fill="#0a0a0a"/><rect x="334.25" y="727.35" width="1.9" height="1.9" fill="#ececf0"/><rect x="334.45" y="724.82" width="1.5" height="1.5" fill="#4f79b8"/>
<rect x="485.5" y="695.45" width="23.1" height="7.3" fill="#e6e4e7"/><text x="490.3" y="701.25" class="pc" textLength="15.6" lengthAdjust="spacingAndGlyphs">2.19%</text>
<circle cx="481.2" cy="699.1" r="4.95" fill="#fff" fill-opacity=".82"/><circle cx="481.2" cy="699.1" r="4.3" fill="#0a0a0a"/><rect x="480.25" y="698.15" width="1.9" height="1.9" fill="#ececf0"/><rect x="483.31" y="698.35" width="1.5" height="1.5" fill="#f0a22c"/>
<rect x="485.5" y="709.95" width="23.1" height="7.3" fill="#e6e4e7"/><text x="487.8" y="715.75" class="pc" textLength="18.1" lengthAdjust="spacingAndGlyphs">20.77%</text>
<circle cx="481.2" cy="713.6" r="4.95" fill="#fff" fill-opacity=".82"/><circle cx="481.2" cy="713.6" r="4.3" fill="#0a0a0a"/><rect x="480.25" y="712.65" width="1.9" height="1.9" fill="#ececf0"/><rect x="480.45" y="710.12" width="1.5" height="1.5" fill="#4f79b8"/>
<rect x="485.5" y="728.95" width="23.1" height="7.3" fill="#e6e4e7"/><text x="489.4" y="734.75" class="pc" textLength="15.3" lengthAdjust="spacingAndGlyphs">5.26%</text>
<circle cx="481.2" cy="732.6" r="4.95" fill="#fff" fill-opacity=".82"/><circle cx="481.2" cy="732.6" r="4.3" fill="#0a0a0a"/><rect x="480.25" y="731.65" width="1.9" height="1.9" fill="#ececf0"/>
<circle cx="29.6" cy="797.5" r="2.95" fill="#cac6ca"/>
<text x="36.2" y="799.25" class="lg" textLength="48.8" lengthAdjust="spacingAndGlyphs">Founding (Clone 1)</text>
<circle cx="109" cy="797.5" r="2.95" fill="#d4953c"/>
<text x="115.7" y="799.25" class="lg" textLength="64.3" lengthAdjust="spacingAndGlyphs">Primary Specific (Clone 2)</text>
<circle cx="205.6" cy="797.5" r="2.95" fill="#4a6183"/>
<text x="212.2" y="799.25" class="lg" textLength="67.8" lengthAdjust="spacingAndGlyphs">Relapse Enriched (Clone 3)</text>
<rect x="0" y="0" width="520" height="1.1" fill="#111"/>
<rect x="0" y="0" width="1.6" height="808" fill="#575757"/>
<rect x="518.9" y="0" width="1.1" height="808" fill="#111"/>
<rect x="0" y="806.5" width="520" height="1.5" fill="#0c0c0c"/>
</svg>
</body></html>
